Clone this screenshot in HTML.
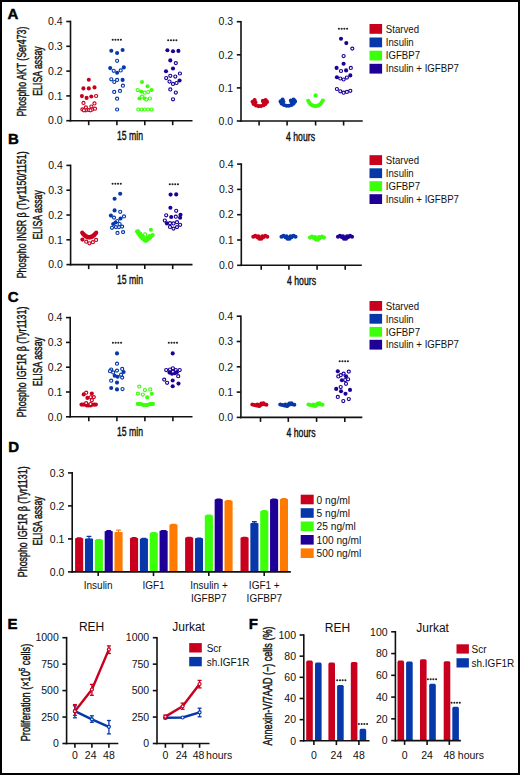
<!DOCTYPE html><html><head><meta charset="utf-8"><style>html,body{margin:0;padding:0;background:#fff;}body{width:520px;height:775px;overflow:hidden;font-family:"Liberation Sans",sans-serif;}svg{display:block;}</style></head><body><svg width="520" height="775" viewBox="0 0 520 775" font-family="Liberation Sans, sans-serif">
<rect x="0" y="0" width="520" height="775" fill="#fff"/>
<text x="7.6" y="18.5" font-size="15" text-anchor="start" font-weight="bold" fill="#000" stroke="#000" stroke-width="0.45">A</text>
<line x1="70.5" y1="20.7" x2="70.5" y2="121.5" stroke="#111" stroke-width="1.6" stroke-linecap="butt"/>
<line x1="66.3" y1="120.7" x2="70.5" y2="120.7" stroke="#111" stroke-width="1.6" stroke-linecap="butt"/>
<text transform="translate(62.70,124.45) scale(1.0,1)" font-size="10.5" text-anchor="end" fill="#111">0.0</text>
<line x1="66.3" y1="95.9" x2="70.5" y2="95.9" stroke="#111" stroke-width="1.6" stroke-linecap="butt"/>
<text transform="translate(62.70,99.65) scale(1.0,1)" font-size="10.5" text-anchor="end" fill="#111">0.1</text>
<line x1="66.3" y1="71.1" x2="70.5" y2="71.1" stroke="#111" stroke-width="1.6" stroke-linecap="butt"/>
<text transform="translate(62.70,74.85) scale(1.0,1)" font-size="10.5" text-anchor="end" fill="#111">0.2</text>
<line x1="66.3" y1="46.3" x2="70.5" y2="46.3" stroke="#111" stroke-width="1.6" stroke-linecap="butt"/>
<text transform="translate(62.70,50.05) scale(1.0,1)" font-size="10.5" text-anchor="end" fill="#111">0.3</text>
<line x1="66.3" y1="21.5" x2="70.5" y2="21.5" stroke="#111" stroke-width="1.6" stroke-linecap="butt"/>
<text transform="translate(62.70,25.25) scale(1.0,1)" font-size="10.5" text-anchor="end" fill="#111">0.4</text>
<line x1="69.7" y1="120.7" x2="192.5" y2="120.7" stroke="#111" stroke-width="1.6" stroke-linecap="butt"/>
<line x1="88.7" y1="120.7" x2="88.7" y2="125.2" stroke="#111" stroke-width="1.6" stroke-linecap="butt"/>
<line x1="116.9" y1="120.7" x2="116.9" y2="125.2" stroke="#111" stroke-width="1.6" stroke-linecap="butt"/>
<line x1="144.8" y1="120.7" x2="144.8" y2="125.2" stroke="#111" stroke-width="1.6" stroke-linecap="butt"/>
<line x1="172.7" y1="120.7" x2="172.7" y2="125.2" stroke="#111" stroke-width="1.6" stroke-linecap="butt"/>
<text transform="translate(26.3,71.6) rotate(-90)" x="0" y="0" font-size="12.3" text-anchor="middle" fill="#111" stroke="#111" stroke-width="0.42" textLength="89.8" lengthAdjust="spacingAndGlyphs">Phospho AKT (Ser473)</text>
<text transform="translate(41.8,71.0) rotate(-90)" x="0" y="0" font-size="12.3" text-anchor="middle" fill="#111" stroke="#111" stroke-width="0.42" textLength="49.4" lengthAdjust="spacingAndGlyphs">ELISA assay</text>
<text x="130" y="139.6" font-size="12" text-anchor="middle" font-weight="normal" fill="#111" textLength="26" lengthAdjust="spacingAndGlyphs" stroke="#111" stroke-width="0.4">15 min</text>
<circle cx="88.8" cy="79.7" r="2.05" fill="#c8001e"/>
<circle cx="83.4" cy="88.4" r="2.05" fill="#c8001e"/>
<circle cx="88.8" cy="88.4" r="2.05" fill="#c8001e"/>
<circle cx="94.5" cy="87.4" r="2.05" fill="#c8001e"/>
<circle cx="81.9" cy="96.1" r="2.05" fill="#c8001e"/>
<circle cx="86.6" cy="97.9" r="2.05" fill="#c8001e"/>
<circle cx="91.3" cy="96.5" r="2.05" fill="#c8001e"/>
<circle cx="96.1" cy="96.0" r="1.55" fill="#fff" stroke="#c8001e" stroke-width="1.15"/>
<circle cx="83.5" cy="102.9" r="1.55" fill="#fff" stroke="#c8001e" stroke-width="1.15"/>
<circle cx="94.5" cy="103.4" r="1.55" fill="#fff" stroke="#c8001e" stroke-width="1.15"/>
<circle cx="91.4" cy="106.5" r="1.55" fill="#fff" stroke="#c8001e" stroke-width="1.15"/>
<circle cx="82.4" cy="109.4" r="1.55" fill="#fff" stroke="#c8001e" stroke-width="1.15"/>
<circle cx="85.9" cy="107.4" r="1.55" fill="#fff" stroke="#c8001e" stroke-width="1.15"/>
<circle cx="85.9" cy="110.3" r="1.55" fill="#fff" stroke="#c8001e" stroke-width="1.15"/>
<circle cx="88.8" cy="110.0" r="1.55" fill="#fff" stroke="#c8001e" stroke-width="1.15"/>
<circle cx="92.1" cy="109.4" r="1.55" fill="#fff" stroke="#c8001e" stroke-width="1.15"/>
<circle cx="95.0" cy="108.7" r="1.55" fill="#fff" stroke="#c8001e" stroke-width="1.15"/>
<circle cx="83.9" cy="110.3" r="1.55" fill="#fff" stroke="#c8001e" stroke-width="1.15"/>
<circle cx="90.5" cy="110.3" r="1.55" fill="#fff" stroke="#c8001e" stroke-width="1.15"/>
<circle cx="112.70" cy="39.70" r="1.05" fill="#222"/>
<circle cx="115.45" cy="39.70" r="1.05" fill="#222"/>
<circle cx="118.15" cy="39.70" r="1.05" fill="#222"/>
<circle cx="120.90" cy="39.70" r="1.05" fill="#222"/>
<circle cx="111.3" cy="50.7" r="2.05" fill="#0638aa"/>
<circle cx="117.1" cy="53.0" r="2.05" fill="#0638aa"/>
<circle cx="122.6" cy="50.0" r="2.05" fill="#0638aa"/>
<circle cx="117.1" cy="60.8" r="1.55" fill="#fff" stroke="#0638aa" stroke-width="1.15"/>
<circle cx="110.2" cy="68.1" r="2.05" fill="#0638aa"/>
<circle cx="113.7" cy="70.8" r="1.55" fill="#fff" stroke="#0638aa" stroke-width="1.15"/>
<circle cx="117.1" cy="72.7" r="2.05" fill="#0638aa"/>
<circle cx="120.7" cy="70.4" r="1.55" fill="#fff" stroke="#0638aa" stroke-width="1.15"/>
<circle cx="123.8" cy="67.4" r="2.05" fill="#0638aa"/>
<circle cx="111.3" cy="79.3" r="1.55" fill="#fff" stroke="#0638aa" stroke-width="1.15"/>
<circle cx="114.3" cy="82.0" r="1.55" fill="#fff" stroke="#0638aa" stroke-width="1.15"/>
<circle cx="117.1" cy="79.9" r="1.55" fill="#fff" stroke="#0638aa" stroke-width="1.15"/>
<circle cx="122.6" cy="79.9" r="2.05" fill="#0638aa"/>
<circle cx="122.9" cy="85.7" r="1.55" fill="#fff" stroke="#0638aa" stroke-width="1.15"/>
<circle cx="114.2" cy="91.9" r="1.55" fill="#fff" stroke="#0638aa" stroke-width="1.15"/>
<circle cx="120.0" cy="90.9" r="1.55" fill="#fff" stroke="#0638aa" stroke-width="1.15"/>
<circle cx="117.1" cy="98.7" r="1.55" fill="#fff" stroke="#0638aa" stroke-width="1.15"/>
<circle cx="117.1" cy="109.5" r="1.55" fill="#fff" stroke="#0638aa" stroke-width="1.15"/>
<circle cx="142.0" cy="82.0" r="2.05" fill="#3cff0a"/>
<circle cx="147.6" cy="86.3" r="2.05" fill="#3cff0a"/>
<circle cx="137.7" cy="90.1" r="1.55" fill="#fff" stroke="#3cff0a" stroke-width="1.15"/>
<circle cx="141.2" cy="91.5" r="2.05" fill="#3cff0a"/>
<circle cx="144.7" cy="92.7" r="1.55" fill="#fff" stroke="#3cff0a" stroke-width="1.15"/>
<circle cx="148.2" cy="92.1" r="1.55" fill="#fff" stroke="#3cff0a" stroke-width="1.15"/>
<circle cx="151.6" cy="90.1" r="2.05" fill="#3cff0a"/>
<circle cx="142.0" cy="96.7" r="1.55" fill="#fff" stroke="#3cff0a" stroke-width="1.15"/>
<circle cx="139.5" cy="98.5" r="2.05" fill="#3cff0a"/>
<circle cx="144.7" cy="98.5" r="2.05" fill="#3cff0a"/>
<circle cx="146.4" cy="99.6" r="1.55" fill="#fff" stroke="#3cff0a" stroke-width="1.15"/>
<circle cx="149.9" cy="98.5" r="1.55" fill="#fff" stroke="#3cff0a" stroke-width="1.15"/>
<circle cx="138.3" cy="109.5" r="1.55" fill="#fff" stroke="#3cff0a" stroke-width="1.15"/>
<circle cx="141.5" cy="109.5" r="1.55" fill="#fff" stroke="#3cff0a" stroke-width="1.15"/>
<circle cx="144.8" cy="109.5" r="1.55" fill="#fff" stroke="#3cff0a" stroke-width="1.15"/>
<circle cx="148.0" cy="109.5" r="1.55" fill="#fff" stroke="#3cff0a" stroke-width="1.15"/>
<circle cx="151.6" cy="109.5" r="1.55" fill="#fff" stroke="#3cff0a" stroke-width="1.15"/>
<circle cx="168.20" cy="40.20" r="1.05" fill="#222"/>
<circle cx="170.95" cy="40.20" r="1.05" fill="#222"/>
<circle cx="173.65" cy="40.20" r="1.05" fill="#222"/>
<circle cx="176.40" cy="40.20" r="1.05" fill="#222"/>
<circle cx="167.4" cy="50.3" r="2.05" fill="#1e0096"/>
<circle cx="173.0" cy="51.2" r="2.05" fill="#1e0096"/>
<circle cx="178.4" cy="50.9" r="2.05" fill="#1e0096"/>
<circle cx="170.3" cy="60.4" r="2.05" fill="#1e0096"/>
<circle cx="175.8" cy="63.1" r="1.55" fill="#fff" stroke="#1e0096" stroke-width="1.15"/>
<circle cx="173.0" cy="68.5" r="2.05" fill="#1e0096"/>
<circle cx="166.0" cy="71.2" r="2.05" fill="#1e0096"/>
<circle cx="170.3" cy="75.8" r="1.55" fill="#fff" stroke="#1e0096" stroke-width="1.15"/>
<circle cx="175.3" cy="76.6" r="1.55" fill="#fff" stroke="#1e0096" stroke-width="1.15"/>
<circle cx="179.9" cy="73.5" r="1.55" fill="#fff" stroke="#1e0096" stroke-width="1.15"/>
<circle cx="166.2" cy="78.1" r="1.55" fill="#fff" stroke="#1e0096" stroke-width="1.15"/>
<circle cx="169.5" cy="81.6" r="1.55" fill="#fff" stroke="#1e0096" stroke-width="1.15"/>
<circle cx="173.0" cy="83.9" r="1.55" fill="#fff" stroke="#1e0096" stroke-width="1.15"/>
<circle cx="176.5" cy="83.0" r="1.55" fill="#fff" stroke="#1e0096" stroke-width="1.15"/>
<circle cx="179.6" cy="80.5" r="2.05" fill="#1e0096"/>
<circle cx="170.3" cy="89.4" r="1.55" fill="#fff" stroke="#1e0096" stroke-width="1.15"/>
<circle cx="175.8" cy="92.6" r="1.55" fill="#fff" stroke="#1e0096" stroke-width="1.15"/>
<circle cx="173.0" cy="99.3" r="1.55" fill="#fff" stroke="#1e0096" stroke-width="1.15"/>
<line x1="241.0" y1="20.899999999999988" x2="241.0" y2="121.8" stroke="#111" stroke-width="1.6" stroke-linecap="butt"/>
<line x1="236.8" y1="121.0" x2="241.0" y2="121.0" stroke="#111" stroke-width="1.6" stroke-linecap="butt"/>
<text transform="translate(233.20,124.75) scale(1.0,1)" font-size="10.5" text-anchor="end" fill="#111">0.0</text>
<line x1="236.8" y1="87.9" x2="241.0" y2="87.9" stroke="#111" stroke-width="1.6" stroke-linecap="butt"/>
<text transform="translate(233.20,91.65) scale(1.0,1)" font-size="10.5" text-anchor="end" fill="#111">0.1</text>
<line x1="236.8" y1="54.8" x2="241.0" y2="54.8" stroke="#111" stroke-width="1.6" stroke-linecap="butt"/>
<text transform="translate(233.20,58.55) scale(1.0,1)" font-size="10.5" text-anchor="end" fill="#111">0.2</text>
<line x1="236.8" y1="21.69999999999999" x2="241.0" y2="21.69999999999999" stroke="#111" stroke-width="1.6" stroke-linecap="butt"/>
<text transform="translate(233.20,25.45) scale(1.0,1)" font-size="10.5" text-anchor="end" fill="#111">0.3</text>
<line x1="240.2" y1="121.0" x2="362.7" y2="121.0" stroke="#111" stroke-width="1.6" stroke-linecap="butt"/>
<line x1="259.1" y1="121.0" x2="259.1" y2="125.5" stroke="#111" stroke-width="1.6" stroke-linecap="butt"/>
<line x1="287.1" y1="121.0" x2="287.1" y2="125.5" stroke="#111" stroke-width="1.6" stroke-linecap="butt"/>
<line x1="315.6" y1="121.0" x2="315.6" y2="125.5" stroke="#111" stroke-width="1.6" stroke-linecap="butt"/>
<line x1="343.6" y1="121.0" x2="343.6" y2="125.5" stroke="#111" stroke-width="1.6" stroke-linecap="butt"/>
<text x="300.5" y="141.0" font-size="12" text-anchor="middle" font-weight="normal" fill="#111" textLength="29" lengthAdjust="spacingAndGlyphs" stroke="#111" stroke-width="0.4">4 hours</text>
<circle cx="252.6" cy="101.8" r="2.05" fill="#c8001e"/>
<circle cx="254.6" cy="100.0" r="2.05" fill="#c8001e"/>
<circle cx="255.4" cy="102.2" r="2.05" fill="#c8001e"/>
<circle cx="253.6" cy="104.0" r="2.05" fill="#c8001e"/>
<circle cx="256.0" cy="105.4" r="2.05" fill="#c8001e"/>
<circle cx="258.5" cy="106.1" r="2.05" fill="#c8001e"/>
<circle cx="261.0" cy="106.1" r="2.05" fill="#c8001e"/>
<circle cx="263.5" cy="105.3" r="2.05" fill="#c8001e"/>
<circle cx="265.5" cy="104.0" r="2.05" fill="#c8001e"/>
<circle cx="267.0" cy="102.0" r="2.05" fill="#c8001e"/>
<circle cx="265.6" cy="100.0" r="2.05" fill="#c8001e"/>
<circle cx="262.9" cy="100.9" r="2.05" fill="#c8001e"/>
<circle cx="263.8" cy="102.6" r="2.05" fill="#c8001e"/>
<circle cx="266.5" cy="101.2" r="2.05" fill="#c8001e"/>
<circle cx="280.6" cy="101.39999999999999" r="2.05" fill="#0638aa"/>
<circle cx="282.6" cy="99.6" r="2.05" fill="#0638aa"/>
<circle cx="283.4" cy="101.8" r="2.05" fill="#0638aa"/>
<circle cx="281.6" cy="103.6" r="2.05" fill="#0638aa"/>
<circle cx="284.0" cy="105.0" r="2.05" fill="#0638aa"/>
<circle cx="286.5" cy="105.69999999999999" r="2.05" fill="#0638aa"/>
<circle cx="289.0" cy="105.69999999999999" r="2.05" fill="#0638aa"/>
<circle cx="291.5" cy="104.89999999999999" r="2.05" fill="#0638aa"/>
<circle cx="293.5" cy="103.6" r="2.05" fill="#0638aa"/>
<circle cx="295.0" cy="101.6" r="2.05" fill="#0638aa"/>
<circle cx="293.6" cy="99.6" r="2.05" fill="#0638aa"/>
<circle cx="290.9" cy="100.5" r="2.05" fill="#0638aa"/>
<circle cx="291.8" cy="102.19999999999999" r="2.05" fill="#0638aa"/>
<circle cx="294.5" cy="100.8" r="2.05" fill="#0638aa"/>
<circle cx="308.2" cy="100.8" r="2.05" fill="#3cff0a"/>
<circle cx="309.2" cy="102.6" r="2.05" fill="#3cff0a"/>
<circle cx="310.6" cy="104.2" r="2.05" fill="#3cff0a"/>
<circle cx="312.4" cy="105.4" r="2.05" fill="#3cff0a"/>
<circle cx="314.4" cy="106.0" r="2.05" fill="#3cff0a"/>
<circle cx="316.4" cy="106.0" r="2.05" fill="#3cff0a"/>
<circle cx="318.4" cy="105.4" r="2.05" fill="#3cff0a"/>
<circle cx="320.2" cy="104.2" r="2.05" fill="#3cff0a"/>
<circle cx="321.6" cy="102.6" r="2.05" fill="#3cff0a"/>
<circle cx="322.8" cy="100.6" r="2.05" fill="#3cff0a"/>
<circle cx="315.6" cy="95.4" r="2.05" fill="#3cff0a"/>
<circle cx="338.90" cy="28.70" r="1.05" fill="#222"/>
<circle cx="341.65" cy="28.70" r="1.05" fill="#222"/>
<circle cx="344.35" cy="28.70" r="1.05" fill="#222"/>
<circle cx="347.10" cy="28.70" r="1.05" fill="#222"/>
<circle cx="341.0" cy="38.8" r="2.05" fill="#1e0096"/>
<circle cx="346.3" cy="43.1" r="2.05" fill="#1e0096"/>
<circle cx="352.3" cy="48.6" r="1.55" fill="#fff" stroke="#1e0096" stroke-width="1.15"/>
<circle cx="343.6" cy="56.0" r="1.55" fill="#fff" stroke="#1e0096" stroke-width="1.15"/>
<circle cx="343.6" cy="63.8" r="2.05" fill="#1e0096"/>
<circle cx="336.6" cy="67.9" r="2.05" fill="#1e0096"/>
<circle cx="341.0" cy="71.0" r="1.55" fill="#fff" stroke="#1e0096" stroke-width="1.15"/>
<circle cx="346.1" cy="70.4" r="2.05" fill="#1e0096"/>
<circle cx="350.8" cy="67.9" r="1.55" fill="#fff" stroke="#1e0096" stroke-width="1.15"/>
<circle cx="336.9" cy="77.2" r="2.05" fill="#1e0096"/>
<circle cx="340.3" cy="78.5" r="1.55" fill="#fff" stroke="#1e0096" stroke-width="1.15"/>
<circle cx="343.6" cy="79.5" r="1.55" fill="#fff" stroke="#1e0096" stroke-width="1.15"/>
<circle cx="346.9" cy="77.6" r="1.55" fill="#fff" stroke="#1e0096" stroke-width="1.15"/>
<circle cx="350.3" cy="75.4" r="2.05" fill="#1e0096"/>
<circle cx="336.9" cy="89.0" r="1.55" fill="#fff" stroke="#1e0096" stroke-width="1.15"/>
<circle cx="340.3" cy="91.3" r="1.55" fill="#fff" stroke="#1e0096" stroke-width="1.15"/>
<circle cx="343.6" cy="92.7" r="1.55" fill="#fff" stroke="#1e0096" stroke-width="1.15"/>
<circle cx="346.9" cy="91.9" r="1.55" fill="#fff" stroke="#1e0096" stroke-width="1.15"/>
<circle cx="350.3" cy="90.8" r="1.55" fill="#fff" stroke="#1e0096" stroke-width="1.15"/>
<rect x="369.5" y="24.0" width="12.6" height="9.8" fill="#c8001e"/>
<text x="385.8" y="32.6" font-size="10.2" text-anchor="start" font-weight="normal" fill="#111" textLength="33.22" lengthAdjust="spacingAndGlyphs" >Starved</text>
<rect x="369.5" y="37.5" width="12.6" height="9.8" fill="#0638aa"/>
<text x="385.8" y="46.1" font-size="10.2" text-anchor="start" font-weight="normal" fill="#111" textLength="27.86" lengthAdjust="spacingAndGlyphs" >Insulin</text>
<rect x="369.5" y="50.7" width="12.6" height="9.8" fill="#3cff0a"/>
<text x="385.8" y="59.300000000000004" font-size="10.2" text-anchor="start" font-weight="normal" fill="#111" textLength="34.28" lengthAdjust="spacingAndGlyphs" >IGFBP7</text>
<rect x="369.5" y="63.8" width="12.6" height="9.8" fill="#1e0096"/>
<text x="385.8" y="72.4" font-size="10.2" text-anchor="start" font-weight="normal" fill="#111" textLength="73.13" lengthAdjust="spacingAndGlyphs" >Insulin + IGFBP7</text>
<text x="8.1" y="144.0" font-size="15" text-anchor="start" font-weight="bold" fill="#000" stroke="#000" stroke-width="0.45">B</text>
<line x1="70.6" y1="164.60000000000002" x2="70.6" y2="265.40000000000003" stroke="#111" stroke-width="1.6" stroke-linecap="butt"/>
<line x1="66.39999999999999" y1="264.6" x2="70.6" y2="264.6" stroke="#111" stroke-width="1.6" stroke-linecap="butt"/>
<text transform="translate(62.80,268.35) scale(1.0,1)" font-size="10.5" text-anchor="end" fill="#111">0.0</text>
<line x1="66.39999999999999" y1="239.8" x2="70.6" y2="239.8" stroke="#111" stroke-width="1.6" stroke-linecap="butt"/>
<text transform="translate(62.80,243.55) scale(1.0,1)" font-size="10.5" text-anchor="end" fill="#111">0.1</text>
<line x1="66.39999999999999" y1="215.00000000000003" x2="70.6" y2="215.00000000000003" stroke="#111" stroke-width="1.6" stroke-linecap="butt"/>
<text transform="translate(62.80,218.75) scale(1.0,1)" font-size="10.5" text-anchor="end" fill="#111">0.2</text>
<line x1="66.39999999999999" y1="190.20000000000002" x2="70.6" y2="190.20000000000002" stroke="#111" stroke-width="1.6" stroke-linecap="butt"/>
<text transform="translate(62.80,193.95) scale(1.0,1)" font-size="10.5" text-anchor="end" fill="#111">0.3</text>
<line x1="66.39999999999999" y1="165.40000000000003" x2="70.6" y2="165.40000000000003" stroke="#111" stroke-width="1.6" stroke-linecap="butt"/>
<text transform="translate(62.80,169.15) scale(1.0,1)" font-size="10.5" text-anchor="end" fill="#111">0.4</text>
<line x1="69.8" y1="264.6" x2="192.5" y2="264.6" stroke="#111" stroke-width="1.6" stroke-linecap="butt"/>
<line x1="88.7" y1="264.6" x2="88.7" y2="269.1" stroke="#111" stroke-width="1.6" stroke-linecap="butt"/>
<line x1="116.9" y1="264.6" x2="116.9" y2="269.1" stroke="#111" stroke-width="1.6" stroke-linecap="butt"/>
<line x1="144.8" y1="264.6" x2="144.8" y2="269.1" stroke="#111" stroke-width="1.6" stroke-linecap="butt"/>
<line x1="172.7" y1="264.6" x2="172.7" y2="269.1" stroke="#111" stroke-width="1.6" stroke-linecap="butt"/>
<text transform="translate(26.3,214.8) rotate(-90)" x="0" y="0" font-size="12.3" text-anchor="middle" fill="#111" stroke="#111" stroke-width="0.42" textLength="127" lengthAdjust="spacingAndGlyphs">Phospho INSR &#946; (Tyr1150/1151)</text>
<text transform="translate(41.8,214.9) rotate(-90)" x="0" y="0" font-size="12.3" text-anchor="middle" fill="#111" stroke="#111" stroke-width="0.42" textLength="49.4" lengthAdjust="spacingAndGlyphs">ELISA assay</text>
<text x="130" y="283.6" font-size="12" text-anchor="middle" font-weight="normal" fill="#111" textLength="26" lengthAdjust="spacingAndGlyphs" stroke="#111" stroke-width="0.4">15 min</text>
<circle cx="82.2" cy="232.5" r="2.05" fill="#c8001e"/>
<circle cx="83.6" cy="234.12" r="2.05" fill="#c8001e"/>
<circle cx="85.0" cy="235.38" r="2.05" fill="#c8001e"/>
<circle cx="86.4" cy="236.28" r="2.05" fill="#c8001e"/>
<circle cx="87.8" cy="236.82" r="2.05" fill="#c8001e"/>
<circle cx="89.2" cy="237.0" r="2.05" fill="#c8001e"/>
<circle cx="90.6" cy="236.82" r="2.05" fill="#c8001e"/>
<circle cx="92.0" cy="236.28" r="2.05" fill="#c8001e"/>
<circle cx="93.4" cy="235.38" r="2.05" fill="#c8001e"/>
<circle cx="94.8" cy="234.12" r="2.05" fill="#c8001e"/>
<circle cx="96.2" cy="232.5" r="2.05" fill="#c8001e"/>
<circle cx="82.7" cy="233.8" r="2.05" fill="#c8001e"/>
<circle cx="84.33" cy="235.46" r="2.05" fill="#c8001e"/>
<circle cx="85.95" cy="236.65" r="2.05" fill="#c8001e"/>
<circle cx="87.58" cy="237.36" r="2.05" fill="#c8001e"/>
<circle cx="89.2" cy="237.6" r="2.05" fill="#c8001e"/>
<circle cx="90.83" cy="237.36" r="2.05" fill="#c8001e"/>
<circle cx="92.45" cy="236.65" r="2.05" fill="#c8001e"/>
<circle cx="94.08" cy="235.46" r="2.05" fill="#c8001e"/>
<circle cx="95.7" cy="233.8" r="2.05" fill="#c8001e"/>
<circle cx="82.4" cy="239.6" r="2.05" fill="#c8001e"/>
<circle cx="86.2" cy="241.7" r="1.55" fill="#fff" stroke="#c8001e" stroke-width="1.15"/>
<circle cx="89.4" cy="243.3" r="1.55" fill="#fff" stroke="#c8001e" stroke-width="1.15"/>
<circle cx="92.9" cy="242.2" r="1.55" fill="#fff" stroke="#c8001e" stroke-width="1.15"/>
<circle cx="96.1" cy="239.9" r="1.55" fill="#fff" stroke="#c8001e" stroke-width="1.15"/>
<circle cx="112.60" cy="183.70" r="1.05" fill="#222"/>
<circle cx="115.35" cy="183.70" r="1.05" fill="#222"/>
<circle cx="118.05" cy="183.70" r="1.05" fill="#222"/>
<circle cx="120.80" cy="183.70" r="1.05" fill="#222"/>
<circle cx="120.2" cy="193.8" r="2.05" fill="#0638aa"/>
<circle cx="114.6" cy="198.8" r="2.05" fill="#0638aa"/>
<circle cx="114.6" cy="210.4" r="2.05" fill="#0638aa"/>
<circle cx="120.2" cy="211.8" r="1.55" fill="#fff" stroke="#0638aa" stroke-width="1.15"/>
<circle cx="110.9" cy="215.6" r="2.05" fill="#0638aa"/>
<circle cx="114.0" cy="217.6" r="1.55" fill="#fff" stroke="#0638aa" stroke-width="1.15"/>
<circle cx="120.5" cy="218.5" r="2.05" fill="#0638aa"/>
<circle cx="124.0" cy="216.4" r="1.55" fill="#fff" stroke="#0638aa" stroke-width="1.15"/>
<circle cx="117.3" cy="221.0" r="1.55" fill="#fff" stroke="#0638aa" stroke-width="1.15"/>
<circle cx="113.2" cy="224.0" r="2.05" fill="#0638aa"/>
<circle cx="115.5" cy="222.5" r="2.05" fill="#0638aa"/>
<circle cx="119.6" cy="224.0" r="1.55" fill="#fff" stroke="#0638aa" stroke-width="1.15"/>
<circle cx="112.0" cy="227.8" r="1.55" fill="#fff" stroke="#0638aa" stroke-width="1.15"/>
<circle cx="115.9" cy="227.1" r="1.55" fill="#fff" stroke="#0638aa" stroke-width="1.15"/>
<circle cx="119.0" cy="227.1" r="1.55" fill="#fff" stroke="#0638aa" stroke-width="1.15"/>
<circle cx="122.1" cy="226.6" r="1.55" fill="#fff" stroke="#0638aa" stroke-width="1.15"/>
<circle cx="117.5" cy="232.9" r="1.55" fill="#fff" stroke="#0638aa" stroke-width="1.15"/>
<circle cx="123.1" cy="232.1" r="1.55" fill="#fff" stroke="#0638aa" stroke-width="1.15"/>
<circle cx="137.0" cy="231.5" r="2.05" fill="#3cff0a"/>
<circle cx="138.3" cy="233.4" r="2.05" fill="#3cff0a"/>
<circle cx="139.6" cy="235.2" r="2.05" fill="#3cff0a"/>
<circle cx="141.0" cy="236.9" r="2.05" fill="#3cff0a"/>
<circle cx="142.5" cy="238.5" r="2.05" fill="#3cff0a"/>
<circle cx="144.0" cy="239.9" r="2.05" fill="#3cff0a"/>
<circle cx="145.7" cy="240.9" r="2.05" fill="#3cff0a"/>
<circle cx="147.3" cy="240.0" r="2.05" fill="#3cff0a"/>
<circle cx="148.8" cy="238.7" r="2.05" fill="#3cff0a"/>
<circle cx="150.2" cy="237.4" r="2.05" fill="#3cff0a"/>
<circle cx="151.6" cy="236.1" r="2.05" fill="#3cff0a"/>
<circle cx="152.7" cy="235.0" r="2.05" fill="#3cff0a"/>
<circle cx="140.2" cy="233.6" r="2.05" fill="#3cff0a"/>
<circle cx="142.0" cy="235.8" r="2.05" fill="#3cff0a"/>
<circle cx="143.8" cy="237.6" r="2.05" fill="#3cff0a"/>
<circle cx="147.6" cy="237.6" r="2.05" fill="#3cff0a"/>
<circle cx="149.6" cy="236.0" r="2.05" fill="#3cff0a"/>
<circle cx="138.2" cy="231.2" r="2.05" fill="#3cff0a"/>
<circle cx="150.9" cy="229.8" r="2.05" fill="#3cff0a"/>
<circle cx="145.1" cy="234.4" r="1.55" fill="#fff" stroke="#3cff0a" stroke-width="1.15"/>
<circle cx="169.80" cy="184.20" r="1.05" fill="#222"/>
<circle cx="172.55" cy="184.20" r="1.05" fill="#222"/>
<circle cx="175.25" cy="184.20" r="1.05" fill="#222"/>
<circle cx="178.00" cy="184.20" r="1.05" fill="#222"/>
<circle cx="170.6" cy="194.6" r="2.05" fill="#1e0096"/>
<circle cx="176.2" cy="194.4" r="2.05" fill="#1e0096"/>
<circle cx="170.4" cy="207.7" r="2.05" fill="#1e0096"/>
<circle cx="176.2" cy="210.8" r="1.55" fill="#fff" stroke="#1e0096" stroke-width="1.15"/>
<circle cx="166.2" cy="215.3" r="1.55" fill="#fff" stroke="#1e0096" stroke-width="1.15"/>
<circle cx="171.2" cy="217.0" r="2.05" fill="#1e0096"/>
<circle cx="175.8" cy="216.7" r="1.55" fill="#fff" stroke="#1e0096" stroke-width="1.15"/>
<circle cx="180.5" cy="214.7" r="2.05" fill="#1e0096"/>
<circle cx="180.1" cy="217.8" r="2.05" fill="#1e0096"/>
<circle cx="164.8" cy="220.5" r="1.55" fill="#fff" stroke="#1e0096" stroke-width="1.15"/>
<circle cx="166.9" cy="223.4" r="2.05" fill="#1e0096"/>
<circle cx="170.0" cy="223.2" r="1.55" fill="#fff" stroke="#1e0096" stroke-width="1.15"/>
<circle cx="173.5" cy="223.4" r="1.55" fill="#fff" stroke="#1e0096" stroke-width="1.15"/>
<circle cx="177.0" cy="222.2" r="1.55" fill="#fff" stroke="#1e0096" stroke-width="1.15"/>
<circle cx="180.1" cy="224.8" r="1.55" fill="#fff" stroke="#1e0096" stroke-width="1.15"/>
<circle cx="170.0" cy="226.9" r="1.55" fill="#fff" stroke="#1e0096" stroke-width="1.15"/>
<circle cx="173.5" cy="228.6" r="1.55" fill="#fff" stroke="#1e0096" stroke-width="1.15"/>
<circle cx="177.0" cy="227.1" r="1.55" fill="#fff" stroke="#1e0096" stroke-width="1.15"/>
<line x1="241.3" y1="163.3" x2="241.3" y2="266.1" stroke="#111" stroke-width="1.6" stroke-linecap="butt"/>
<line x1="237.10000000000002" y1="265.3" x2="241.3" y2="265.3" stroke="#111" stroke-width="1.6" stroke-linecap="butt"/>
<text transform="translate(233.50,269.05) scale(1.0,1)" font-size="10.5" text-anchor="end" fill="#111">0.0</text>
<line x1="237.10000000000002" y1="240.0" x2="241.3" y2="240.0" stroke="#111" stroke-width="1.6" stroke-linecap="butt"/>
<text transform="translate(233.50,243.75) scale(1.0,1)" font-size="10.5" text-anchor="end" fill="#111">0.1</text>
<line x1="237.10000000000002" y1="214.70000000000002" x2="241.3" y2="214.70000000000002" stroke="#111" stroke-width="1.6" stroke-linecap="butt"/>
<text transform="translate(233.50,218.45) scale(1.0,1)" font-size="10.5" text-anchor="end" fill="#111">0.2</text>
<line x1="237.10000000000002" y1="189.4" x2="241.3" y2="189.4" stroke="#111" stroke-width="1.6" stroke-linecap="butt"/>
<text transform="translate(233.50,193.15) scale(1.0,1)" font-size="10.5" text-anchor="end" fill="#111">0.3</text>
<line x1="237.10000000000002" y1="164.10000000000002" x2="241.3" y2="164.10000000000002" stroke="#111" stroke-width="1.6" stroke-linecap="butt"/>
<text transform="translate(233.50,167.85) scale(1.0,1)" font-size="10.5" text-anchor="end" fill="#111">0.4</text>
<line x1="240.5" y1="265.3" x2="361.8" y2="265.3" stroke="#111" stroke-width="1.6" stroke-linecap="butt"/>
<line x1="261.2" y1="265.3" x2="261.2" y2="269.8" stroke="#111" stroke-width="1.6" stroke-linecap="butt"/>
<line x1="288.9" y1="265.3" x2="288.9" y2="269.8" stroke="#111" stroke-width="1.6" stroke-linecap="butt"/>
<line x1="317.1" y1="265.3" x2="317.1" y2="269.8" stroke="#111" stroke-width="1.6" stroke-linecap="butt"/>
<line x1="345.2" y1="265.3" x2="345.2" y2="269.8" stroke="#111" stroke-width="1.6" stroke-linecap="butt"/>
<text x="301.5" y="284.5" font-size="12" text-anchor="middle" font-weight="normal" fill="#111" textLength="29" lengthAdjust="spacingAndGlyphs" stroke="#111" stroke-width="0.4">4 hours</text>
<circle cx="253.3" cy="236.8" r="2.05" fill="#c8001e"/>
<circle cx="255.3" cy="235.8" r="2.05" fill="#c8001e"/>
<circle cx="257.3" cy="237.3" r="2.05" fill="#c8001e"/>
<circle cx="259.3" cy="238.8" r="2.05" fill="#c8001e"/>
<circle cx="261.3" cy="238.8" r="2.05" fill="#c8001e"/>
<circle cx="263.3" cy="237.3" r="2.05" fill="#c8001e"/>
<circle cx="265.3" cy="235.8" r="2.05" fill="#c8001e"/>
<circle cx="267.3" cy="236.8" r="2.05" fill="#c8001e"/>
<circle cx="258.3" cy="236.3" r="2.05" fill="#c8001e"/>
<circle cx="262.3" cy="236.3" r="2.05" fill="#c8001e"/>
<circle cx="260.3" cy="237.8" r="2.05" fill="#c8001e"/>
<circle cx="281.5" cy="236.8" r="2.05" fill="#0638aa"/>
<circle cx="283.5" cy="235.8" r="2.05" fill="#0638aa"/>
<circle cx="285.5" cy="237.3" r="2.05" fill="#0638aa"/>
<circle cx="287.5" cy="238.8" r="2.05" fill="#0638aa"/>
<circle cx="289.5" cy="238.8" r="2.05" fill="#0638aa"/>
<circle cx="291.5" cy="237.3" r="2.05" fill="#0638aa"/>
<circle cx="293.5" cy="235.8" r="2.05" fill="#0638aa"/>
<circle cx="295.5" cy="236.8" r="2.05" fill="#0638aa"/>
<circle cx="286.5" cy="236.3" r="2.05" fill="#0638aa"/>
<circle cx="290.5" cy="236.3" r="2.05" fill="#0638aa"/>
<circle cx="288.5" cy="237.8" r="2.05" fill="#0638aa"/>
<circle cx="310.0" cy="237.60000000000002" r="2.05" fill="#3cff0a"/>
<circle cx="312.0" cy="236.60000000000002" r="2.05" fill="#3cff0a"/>
<circle cx="314.0" cy="238.10000000000002" r="2.05" fill="#3cff0a"/>
<circle cx="316.0" cy="239.60000000000002" r="2.05" fill="#3cff0a"/>
<circle cx="318.0" cy="239.60000000000002" r="2.05" fill="#3cff0a"/>
<circle cx="320.0" cy="238.10000000000002" r="2.05" fill="#3cff0a"/>
<circle cx="322.0" cy="236.60000000000002" r="2.05" fill="#3cff0a"/>
<circle cx="324.0" cy="237.60000000000002" r="2.05" fill="#3cff0a"/>
<circle cx="315.0" cy="237.10000000000002" r="2.05" fill="#3cff0a"/>
<circle cx="319.0" cy="237.10000000000002" r="2.05" fill="#3cff0a"/>
<circle cx="317.0" cy="238.60000000000002" r="2.05" fill="#3cff0a"/>
<circle cx="338.0" cy="236.8" r="2.05" fill="#1e0096"/>
<circle cx="340.0" cy="235.8" r="2.05" fill="#1e0096"/>
<circle cx="342.0" cy="237.3" r="2.05" fill="#1e0096"/>
<circle cx="344.0" cy="238.8" r="2.05" fill="#1e0096"/>
<circle cx="346.0" cy="238.8" r="2.05" fill="#1e0096"/>
<circle cx="348.0" cy="237.3" r="2.05" fill="#1e0096"/>
<circle cx="350.0" cy="235.8" r="2.05" fill="#1e0096"/>
<circle cx="352.0" cy="236.8" r="2.05" fill="#1e0096"/>
<circle cx="343.0" cy="236.3" r="2.05" fill="#1e0096"/>
<circle cx="347.0" cy="236.3" r="2.05" fill="#1e0096"/>
<circle cx="345.0" cy="237.8" r="2.05" fill="#1e0096"/>
<rect x="369.5" y="155.2" width="12.6" height="9.8" fill="#c8001e"/>
<text x="385.8" y="163.79999999999998" font-size="10.2" text-anchor="start" font-weight="normal" fill="#111" textLength="33.22" lengthAdjust="spacingAndGlyphs" >Starved</text>
<rect x="369.5" y="168.3" width="12.6" height="9.8" fill="#0638aa"/>
<text x="385.8" y="176.9" font-size="10.2" text-anchor="start" font-weight="normal" fill="#111" textLength="27.86" lengthAdjust="spacingAndGlyphs" >Insulin</text>
<rect x="369.5" y="181.2" width="12.6" height="9.8" fill="#3cff0a"/>
<text x="385.8" y="189.79999999999998" font-size="10.2" text-anchor="start" font-weight="normal" fill="#111" textLength="34.28" lengthAdjust="spacingAndGlyphs" >IGFBP7</text>
<rect x="369.5" y="194.2" width="12.6" height="9.8" fill="#1e0096"/>
<text x="385.8" y="202.79999999999998" font-size="10.2" text-anchor="start" font-weight="normal" fill="#111" textLength="73.13" lengthAdjust="spacingAndGlyphs" >Insulin + IGFBP7</text>
<text x="7.8" y="301.6" font-size="15" text-anchor="start" font-weight="bold" fill="#000" stroke="#000" stroke-width="0.45">C</text>
<line x1="70.2" y1="316.8" x2="70.2" y2="417.6" stroke="#111" stroke-width="1.6" stroke-linecap="butt"/>
<line x1="66.0" y1="416.8" x2="70.2" y2="416.8" stroke="#111" stroke-width="1.6" stroke-linecap="butt"/>
<text transform="translate(62.40,420.55) scale(1.0,1)" font-size="10.5" text-anchor="end" fill="#111">0.0</text>
<line x1="66.0" y1="392.0" x2="70.2" y2="392.0" stroke="#111" stroke-width="1.6" stroke-linecap="butt"/>
<text transform="translate(62.40,395.75) scale(1.0,1)" font-size="10.5" text-anchor="end" fill="#111">0.1</text>
<line x1="66.0" y1="367.2" x2="70.2" y2="367.2" stroke="#111" stroke-width="1.6" stroke-linecap="butt"/>
<text transform="translate(62.40,370.95) scale(1.0,1)" font-size="10.5" text-anchor="end" fill="#111">0.2</text>
<line x1="66.0" y1="342.4" x2="70.2" y2="342.4" stroke="#111" stroke-width="1.6" stroke-linecap="butt"/>
<text transform="translate(62.40,346.15) scale(1.0,1)" font-size="10.5" text-anchor="end" fill="#111">0.3</text>
<line x1="66.0" y1="317.6" x2="70.2" y2="317.6" stroke="#111" stroke-width="1.6" stroke-linecap="butt"/>
<text transform="translate(62.40,321.35) scale(1.0,1)" font-size="10.5" text-anchor="end" fill="#111">0.4</text>
<line x1="69.4" y1="416.8" x2="192.5" y2="416.8" stroke="#111" stroke-width="1.6" stroke-linecap="butt"/>
<line x1="88.8" y1="416.8" x2="88.8" y2="421.3" stroke="#111" stroke-width="1.6" stroke-linecap="butt"/>
<line x1="116.9" y1="416.8" x2="116.9" y2="421.3" stroke="#111" stroke-width="1.6" stroke-linecap="butt"/>
<line x1="144.9" y1="416.8" x2="144.9" y2="421.3" stroke="#111" stroke-width="1.6" stroke-linecap="butt"/>
<line x1="172.9" y1="416.8" x2="172.9" y2="421.3" stroke="#111" stroke-width="1.6" stroke-linecap="butt"/>
<text transform="translate(26.3,361.9) rotate(-90)" x="0" y="0" font-size="12.3" text-anchor="middle" fill="#111" stroke="#111" stroke-width="0.42" textLength="110.5" lengthAdjust="spacingAndGlyphs">Phospho IGF1R &#946; (Tyr1131)</text>
<text transform="translate(41.8,361.7) rotate(-90)" x="0" y="0" font-size="12.3" text-anchor="middle" fill="#111" stroke="#111" stroke-width="0.42" textLength="49.0" lengthAdjust="spacingAndGlyphs">ELISA assay</text>
<text x="130" y="435.6" font-size="12" text-anchor="middle" font-weight="normal" fill="#111" textLength="26" lengthAdjust="spacingAndGlyphs" stroke="#111" stroke-width="0.4">15 min</text>
<circle cx="86.2" cy="392.7" r="1.55" fill="#fff" stroke="#c8001e" stroke-width="1.15"/>
<circle cx="83.7" cy="394.4" r="2.05" fill="#c8001e"/>
<circle cx="91.8" cy="393.6" r="2.05" fill="#c8001e"/>
<circle cx="87.4" cy="397.9" r="2.05" fill="#c8001e"/>
<circle cx="90.7" cy="397.3" r="1.55" fill="#fff" stroke="#c8001e" stroke-width="1.15"/>
<circle cx="93.8" cy="397.1" r="1.55" fill="#fff" stroke="#c8001e" stroke-width="1.15"/>
<circle cx="91.8" cy="400.2" r="1.55" fill="#fff" stroke="#c8001e" stroke-width="1.15"/>
<circle cx="81.5" cy="404.6" r="2.05" fill="#c8001e"/>
<circle cx="83.3" cy="404.6" r="2.05" fill="#c8001e"/>
<circle cx="85.1" cy="404.6" r="2.05" fill="#c8001e"/>
<circle cx="86.9" cy="405.40000000000003" r="2.05" fill="#c8001e"/>
<circle cx="88.7" cy="405.40000000000003" r="2.05" fill="#c8001e"/>
<circle cx="90.5" cy="405.40000000000003" r="2.05" fill="#c8001e"/>
<circle cx="92.3" cy="404.6" r="2.05" fill="#c8001e"/>
<circle cx="94.1" cy="404.6" r="2.05" fill="#c8001e"/>
<circle cx="95.9" cy="404.6" r="2.05" fill="#c8001e"/>
<circle cx="86.2" cy="403.1" r="1.55" fill="#fff" stroke="#c8001e" stroke-width="1.15"/>
<circle cx="90.5" cy="404.0" r="1.55" fill="#fff" stroke="#c8001e" stroke-width="1.15"/>
<circle cx="112.90" cy="342.70" r="1.05" fill="#222"/>
<circle cx="115.65" cy="342.70" r="1.05" fill="#222"/>
<circle cx="118.35" cy="342.70" r="1.05" fill="#222"/>
<circle cx="121.10" cy="342.70" r="1.05" fill="#222"/>
<circle cx="117.0" cy="353.4" r="2.05" fill="#0638aa"/>
<circle cx="117.0" cy="363.7" r="1.55" fill="#fff" stroke="#0638aa" stroke-width="1.15"/>
<circle cx="111.2" cy="369.5" r="1.55" fill="#fff" stroke="#0638aa" stroke-width="1.15"/>
<circle cx="110.0" cy="371.2" r="1.55" fill="#fff" stroke="#0638aa" stroke-width="1.15"/>
<circle cx="113.2" cy="372.4" r="1.55" fill="#fff" stroke="#0638aa" stroke-width="1.15"/>
<circle cx="117.0" cy="370.6" r="1.55" fill="#fff" stroke="#0638aa" stroke-width="1.15"/>
<circle cx="122.2" cy="368.9" r="1.55" fill="#fff" stroke="#0638aa" stroke-width="1.15"/>
<circle cx="123.6" cy="372.0" r="2.05" fill="#0638aa"/>
<circle cx="121.1" cy="374.7" r="1.55" fill="#fff" stroke="#0638aa" stroke-width="1.15"/>
<circle cx="114.7" cy="375.8" r="2.05" fill="#0638aa"/>
<circle cx="117.6" cy="376.7" r="2.05" fill="#0638aa"/>
<circle cx="122.2" cy="377.6" r="1.55" fill="#fff" stroke="#0638aa" stroke-width="1.15"/>
<circle cx="111.2" cy="380.7" r="1.55" fill="#fff" stroke="#0638aa" stroke-width="1.15"/>
<circle cx="117.0" cy="382.6" r="2.05" fill="#0638aa"/>
<circle cx="111.2" cy="388.0" r="2.05" fill="#0638aa"/>
<circle cx="117.0" cy="389.4" r="2.05" fill="#0638aa"/>
<circle cx="122.5" cy="389.0" r="1.55" fill="#fff" stroke="#0638aa" stroke-width="1.15"/>
<circle cx="139.3" cy="386.6" r="1.55" fill="#fff" stroke="#3cff0a" stroke-width="1.15"/>
<circle cx="144.9" cy="390.0" r="1.55" fill="#fff" stroke="#3cff0a" stroke-width="1.15"/>
<circle cx="150.3" cy="389.4" r="1.55" fill="#fff" stroke="#3cff0a" stroke-width="1.15"/>
<circle cx="137.9" cy="393.6" r="1.55" fill="#fff" stroke="#3cff0a" stroke-width="1.15"/>
<circle cx="142.8" cy="394.5" r="1.55" fill="#fff" stroke="#3cff0a" stroke-width="1.15"/>
<circle cx="147.2" cy="397.3" r="2.05" fill="#3cff0a"/>
<circle cx="151.8" cy="393.8" r="2.05" fill="#3cff0a"/>
<circle cx="137.8" cy="403.9" r="2.05" fill="#3cff0a"/>
<circle cx="139.70000000000002" cy="403.9" r="2.05" fill="#3cff0a"/>
<circle cx="141.60000000000002" cy="404.2" r="2.05" fill="#3cff0a"/>
<circle cx="143.5" cy="405.09999999999997" r="2.05" fill="#3cff0a"/>
<circle cx="145.4" cy="405.09999999999997" r="2.05" fill="#3cff0a"/>
<circle cx="147.3" cy="405.09999999999997" r="2.05" fill="#3cff0a"/>
<circle cx="149.20000000000002" cy="404.2" r="2.05" fill="#3cff0a"/>
<circle cx="151.10000000000002" cy="403.9" r="2.05" fill="#3cff0a"/>
<circle cx="153.0" cy="403.9" r="2.05" fill="#3cff0a"/>
<circle cx="168.80" cy="342.70" r="1.05" fill="#222"/>
<circle cx="171.55" cy="342.70" r="1.05" fill="#222"/>
<circle cx="174.25" cy="342.70" r="1.05" fill="#222"/>
<circle cx="177.00" cy="342.70" r="1.05" fill="#222"/>
<circle cx="172.7" cy="353.4" r="2.05" fill="#1e0096"/>
<circle cx="166.2" cy="370.0" r="1.55" fill="#fff" stroke="#1e0096" stroke-width="1.15"/>
<circle cx="170.0" cy="369.5" r="1.55" fill="#fff" stroke="#1e0096" stroke-width="1.15"/>
<circle cx="172.9" cy="368.3" r="1.55" fill="#fff" stroke="#1e0096" stroke-width="1.15"/>
<circle cx="175.8" cy="370.0" r="1.55" fill="#fff" stroke="#1e0096" stroke-width="1.15"/>
<circle cx="179.7" cy="370.0" r="1.55" fill="#fff" stroke="#1e0096" stroke-width="1.15"/>
<circle cx="169.5" cy="372.6" r="2.05" fill="#1e0096"/>
<circle cx="172.0" cy="373.8" r="2.05" fill="#1e0096"/>
<circle cx="174.8" cy="373.2" r="2.05" fill="#1e0096"/>
<circle cx="176.8" cy="372.2" r="2.05" fill="#1e0096"/>
<circle cx="172.9" cy="371.6" r="1.55" fill="#fff" stroke="#1e0096" stroke-width="1.15"/>
<circle cx="178.2" cy="376.2" r="1.55" fill="#fff" stroke="#1e0096" stroke-width="1.15"/>
<circle cx="164.2" cy="379.6" r="1.55" fill="#fff" stroke="#1e0096" stroke-width="1.15"/>
<circle cx="167.1" cy="382.8" r="1.55" fill="#fff" stroke="#1e0096" stroke-width="1.15"/>
<circle cx="172.7" cy="380.5" r="2.05" fill="#1e0096"/>
<circle cx="178.5" cy="383.6" r="2.05" fill="#1e0096"/>
<circle cx="172.7" cy="386.3" r="2.05" fill="#1e0096"/>
<line x1="240.9" y1="315.4" x2="240.9" y2="418.2" stroke="#111" stroke-width="1.6" stroke-linecap="butt"/>
<line x1="236.70000000000002" y1="417.4" x2="240.9" y2="417.4" stroke="#111" stroke-width="1.6" stroke-linecap="butt"/>
<text transform="translate(233.10,421.15) scale(1.0,1)" font-size="10.5" text-anchor="end" fill="#111">0.0</text>
<line x1="236.70000000000002" y1="392.09999999999997" x2="240.9" y2="392.09999999999997" stroke="#111" stroke-width="1.6" stroke-linecap="butt"/>
<text transform="translate(233.10,395.85) scale(1.0,1)" font-size="10.5" text-anchor="end" fill="#111">0.1</text>
<line x1="236.70000000000002" y1="366.79999999999995" x2="240.9" y2="366.79999999999995" stroke="#111" stroke-width="1.6" stroke-linecap="butt"/>
<text transform="translate(233.10,370.55) scale(1.0,1)" font-size="10.5" text-anchor="end" fill="#111">0.2</text>
<line x1="236.70000000000002" y1="341.5" x2="240.9" y2="341.5" stroke="#111" stroke-width="1.6" stroke-linecap="butt"/>
<text transform="translate(233.10,345.25) scale(1.0,1)" font-size="10.5" text-anchor="end" fill="#111">0.3</text>
<line x1="236.70000000000002" y1="316.2" x2="240.9" y2="316.2" stroke="#111" stroke-width="1.6" stroke-linecap="butt"/>
<text transform="translate(233.10,319.95) scale(1.0,1)" font-size="10.5" text-anchor="end" fill="#111">0.4</text>
<line x1="240.1" y1="417.4" x2="362.3" y2="417.4" stroke="#111" stroke-width="1.6" stroke-linecap="butt"/>
<line x1="260.5" y1="417.4" x2="260.5" y2="421.9" stroke="#111" stroke-width="1.6" stroke-linecap="butt"/>
<line x1="288.3" y1="417.4" x2="288.3" y2="421.9" stroke="#111" stroke-width="1.6" stroke-linecap="butt"/>
<line x1="316.6" y1="417.4" x2="316.6" y2="421.9" stroke="#111" stroke-width="1.6" stroke-linecap="butt"/>
<line x1="344.8" y1="417.4" x2="344.8" y2="421.9" stroke="#111" stroke-width="1.6" stroke-linecap="butt"/>
<text x="301" y="437.0" font-size="12" text-anchor="middle" font-weight="normal" fill="#111" textLength="29" lengthAdjust="spacingAndGlyphs" stroke="#111" stroke-width="0.4">4 hours</text>
<circle cx="252.39999999999998" cy="404.5" r="2.05" fill="#c8001e"/>
<circle cx="254.39999999999998" cy="405" r="2.05" fill="#c8001e"/>
<circle cx="256.4" cy="405.5" r="2.05" fill="#c8001e"/>
<circle cx="258.4" cy="405.8" r="2.05" fill="#c8001e"/>
<circle cx="260.4" cy="405" r="2.05" fill="#c8001e"/>
<circle cx="262.4" cy="404.3" r="2.05" fill="#c8001e"/>
<circle cx="264.4" cy="404.2" r="2.05" fill="#c8001e"/>
<circle cx="266.4" cy="404.8" r="2.05" fill="#c8001e"/>
<circle cx="257.4" cy="404.5" r="2.05" fill="#c8001e"/>
<circle cx="261.4" cy="403.5" r="2.05" fill="#c8001e"/>
<circle cx="263.4" cy="403.2" r="2.05" fill="#c8001e"/>
<circle cx="259.4" cy="406" r="2.05" fill="#c8001e"/>
<circle cx="280.3" cy="404.5" r="2.05" fill="#0638aa"/>
<circle cx="282.3" cy="405" r="2.05" fill="#0638aa"/>
<circle cx="284.3" cy="405.5" r="2.05" fill="#0638aa"/>
<circle cx="286.3" cy="405.8" r="2.05" fill="#0638aa"/>
<circle cx="288.3" cy="405" r="2.05" fill="#0638aa"/>
<circle cx="290.3" cy="404.3" r="2.05" fill="#0638aa"/>
<circle cx="292.3" cy="404.2" r="2.05" fill="#0638aa"/>
<circle cx="294.3" cy="404.8" r="2.05" fill="#0638aa"/>
<circle cx="285.3" cy="404.5" r="2.05" fill="#0638aa"/>
<circle cx="289.3" cy="403.5" r="2.05" fill="#0638aa"/>
<circle cx="291.3" cy="403.2" r="2.05" fill="#0638aa"/>
<circle cx="287.3" cy="406" r="2.05" fill="#0638aa"/>
<circle cx="308.5" cy="404.5" r="2.05" fill="#3cff0a"/>
<circle cx="310.5" cy="405" r="2.05" fill="#3cff0a"/>
<circle cx="312.5" cy="405.5" r="2.05" fill="#3cff0a"/>
<circle cx="314.5" cy="405.8" r="2.05" fill="#3cff0a"/>
<circle cx="316.5" cy="405" r="2.05" fill="#3cff0a"/>
<circle cx="318.5" cy="404.3" r="2.05" fill="#3cff0a"/>
<circle cx="320.5" cy="404.2" r="2.05" fill="#3cff0a"/>
<circle cx="322.5" cy="404.8" r="2.05" fill="#3cff0a"/>
<circle cx="313.5" cy="404.5" r="2.05" fill="#3cff0a"/>
<circle cx="317.5" cy="403.5" r="2.05" fill="#3cff0a"/>
<circle cx="319.5" cy="403.2" r="2.05" fill="#3cff0a"/>
<circle cx="315.5" cy="406" r="2.05" fill="#3cff0a"/>
<circle cx="339.70" cy="361.20" r="1.05" fill="#222"/>
<circle cx="342.45" cy="361.20" r="1.05" fill="#222"/>
<circle cx="345.15" cy="361.20" r="1.05" fill="#222"/>
<circle cx="347.90" cy="361.20" r="1.05" fill="#222"/>
<circle cx="337.8" cy="371.3" r="2.05" fill="#1e0096"/>
<circle cx="348.8" cy="371.6" r="1.55" fill="#fff" stroke="#1e0096" stroke-width="1.15"/>
<circle cx="343.6" cy="373.6" r="1.55" fill="#fff" stroke="#1e0096" stroke-width="1.15"/>
<circle cx="340.7" cy="375.2" r="1.55" fill="#fff" stroke="#1e0096" stroke-width="1.15"/>
<circle cx="338.3" cy="376.4" r="1.55" fill="#fff" stroke="#1e0096" stroke-width="1.15"/>
<circle cx="346.0" cy="376.2" r="2.05" fill="#1e0096"/>
<circle cx="341.9" cy="380.3" r="2.05" fill="#1e0096"/>
<circle cx="345.2" cy="380.0" r="1.55" fill="#fff" stroke="#1e0096" stroke-width="1.15"/>
<circle cx="348.1" cy="379.3" r="1.55" fill="#fff" stroke="#1e0096" stroke-width="1.15"/>
<circle cx="346.0" cy="383.8" r="1.55" fill="#fff" stroke="#1e0096" stroke-width="1.15"/>
<circle cx="340.7" cy="387.0" r="1.55" fill="#fff" stroke="#1e0096" stroke-width="1.15"/>
<circle cx="336.2" cy="388.9" r="2.05" fill="#1e0096"/>
<circle cx="341.0" cy="391.2" r="2.05" fill="#1e0096"/>
<circle cx="350.0" cy="389.9" r="2.05" fill="#1e0096"/>
<circle cx="345.5" cy="393.8" r="2.05" fill="#1e0096"/>
<circle cx="337.8" cy="396.9" r="1.55" fill="#fff" stroke="#1e0096" stroke-width="1.15"/>
<circle cx="343.3" cy="401.0" r="1.55" fill="#fff" stroke="#1e0096" stroke-width="1.15"/>
<circle cx="348.8" cy="399.0" r="1.55" fill="#fff" stroke="#1e0096" stroke-width="1.15"/>
<rect x="369.5" y="301.0" width="12.6" height="9.8" fill="#c8001e"/>
<text x="385.8" y="309.59999999999997" font-size="10.2" text-anchor="start" font-weight="normal" fill="#111" textLength="33.22" lengthAdjust="spacingAndGlyphs" >Starved</text>
<rect x="369.5" y="313.9" width="12.6" height="9.8" fill="#0638aa"/>
<text x="385.8" y="322.49999999999994" font-size="10.2" text-anchor="start" font-weight="normal" fill="#111" textLength="27.86" lengthAdjust="spacingAndGlyphs" >Insulin</text>
<rect x="369.5" y="326.9" width="12.6" height="9.8" fill="#3cff0a"/>
<text x="385.8" y="335.49999999999994" font-size="10.2" text-anchor="start" font-weight="normal" fill="#111" textLength="34.28" lengthAdjust="spacingAndGlyphs" >IGFBP7</text>
<rect x="369.5" y="339.8" width="12.6" height="9.8" fill="#1e0096"/>
<text x="385.8" y="348.4" font-size="10.2" text-anchor="start" font-weight="normal" fill="#111" textLength="73.13" lengthAdjust="spacingAndGlyphs" >Insulin + IGFBP7</text>
<text x="8.2" y="452.2" font-size="15" text-anchor="start" font-weight="bold" fill="#000" stroke="#000" stroke-width="0.45">D</text>
<line x1="72.2" y1="472.09999999999997" x2="72.2" y2="572.6999999999999" stroke="#111" stroke-width="1.6" stroke-linecap="butt"/>
<line x1="68.0" y1="571.9" x2="72.2" y2="571.9" stroke="#111" stroke-width="1.6" stroke-linecap="butt"/>
<text transform="translate(64.40,575.65) scale(1.0,1)" font-size="10.5" text-anchor="end" fill="#111">0.0</text>
<line x1="68.0" y1="538.9" x2="72.2" y2="538.9" stroke="#111" stroke-width="1.6" stroke-linecap="butt"/>
<text transform="translate(64.40,542.65) scale(1.0,1)" font-size="10.5" text-anchor="end" fill="#111">0.1</text>
<line x1="68.0" y1="505.9" x2="72.2" y2="505.9" stroke="#111" stroke-width="1.6" stroke-linecap="butt"/>
<text transform="translate(64.40,509.65) scale(1.0,1)" font-size="10.5" text-anchor="end" fill="#111">0.2</text>
<line x1="68.0" y1="472.9" x2="72.2" y2="472.9" stroke="#111" stroke-width="1.6" stroke-linecap="butt"/>
<text transform="translate(64.40,476.65) scale(1.0,1)" font-size="10.5" text-anchor="end" fill="#111">0.3</text>
<text transform="translate(27.2,521.8) rotate(-90)" x="0" y="0" font-size="12.3" text-anchor="middle" fill="#111" stroke="#111" stroke-width="0.42" textLength="110.8" lengthAdjust="spacingAndGlyphs">Phospho IGF1R &#946; (Tyr1131)</text>
<text transform="translate(42.4,521.0) rotate(-90)" x="0" y="0" font-size="12.3" text-anchor="middle" fill="#111" stroke="#111" stroke-width="0.42" textLength="49.2" lengthAdjust="spacingAndGlyphs">ELISA assay</text>
<rect x="75.1" y="538.3" width="8.1" height="33.59999999999998" fill="#c8001e"/>
<rect x="75.69999999999999" y="537.9" width="6.9" height="1.5" rx="0.7" fill="#c8001e"/>
<line x1="79.14999999999999" y1="538.5" x2="79.14999999999999" y2="538.0" stroke="#c8001e" stroke-width="1.2" stroke-linecap="butt"/>
<rect x="76.69999999999999" y="537.3" width="4.9" height="1.4" rx="0.5" fill="#c8001e"/>
<rect x="84.94999999999999" y="538.8" width="8.1" height="33.09999999999998" fill="#0638aa"/>
<rect x="85.54999999999998" y="538.4" width="6.9" height="1.5" rx="0.7" fill="#0638aa"/>
<line x1="88.99999999999999" y1="539.0" x2="88.99999999999999" y2="536.4" stroke="#0638aa" stroke-width="1.2" stroke-linecap="butt"/>
<rect x="86.54999999999998" y="535.6999999999999" width="4.9" height="1.4" rx="0.5" fill="#0638aa"/>
<rect x="94.8" y="539.9" width="8.1" height="31.999999999999954" fill="#3cff0a"/>
<rect x="95.39999999999999" y="539.5" width="6.9" height="1.5" rx="0.7" fill="#3cff0a"/>
<line x1="98.85" y1="540.1" x2="98.85" y2="539.6" stroke="#3cff0a" stroke-width="1.2" stroke-linecap="butt"/>
<rect x="96.39999999999999" y="538.9" width="4.9" height="1.4" rx="0.5" fill="#3cff0a"/>
<rect x="104.64999999999999" y="531.3" width="8.1" height="40.59999999999998" fill="#1e0096"/>
<rect x="105.24999999999999" y="530.9" width="6.9" height="1.5" rx="0.7" fill="#1e0096"/>
<line x1="108.69999999999999" y1="531.5" x2="108.69999999999999" y2="530.7" stroke="#1e0096" stroke-width="1.2" stroke-linecap="butt"/>
<rect x="106.24999999999999" y="530.0" width="4.9" height="1.4" rx="0.5" fill="#1e0096"/>
<rect x="114.5" y="532.3" width="8.1" height="39.59999999999998" fill="#ff7a00"/>
<rect x="115.1" y="531.9" width="6.9" height="1.5" rx="0.7" fill="#ff7a00"/>
<line x1="118.55" y1="532.5" x2="118.55" y2="530.1" stroke="#ff7a00" stroke-width="1.2" stroke-linecap="butt"/>
<rect x="116.1" y="529.4" width="4.9" height="1.4" rx="0.5" fill="#ff7a00"/>
<rect x="130.0" y="538.0999999999999" width="8.1" height="33.800000000000026" fill="#c8001e"/>
<rect x="130.6" y="537.6999999999999" width="6.9" height="1.5" rx="0.7" fill="#c8001e"/>
<line x1="134.05" y1="538.3" x2="134.05" y2="537.8" stroke="#c8001e" stroke-width="1.2" stroke-linecap="butt"/>
<rect x="131.6" y="537.0999999999999" width="4.9" height="1.4" rx="0.5" fill="#c8001e"/>
<rect x="139.85" y="538.8" width="8.1" height="33.09999999999998" fill="#0638aa"/>
<rect x="140.45" y="538.4" width="6.9" height="1.5" rx="0.7" fill="#0638aa"/>
<line x1="143.9" y1="539.0" x2="143.9" y2="538.5" stroke="#0638aa" stroke-width="1.2" stroke-linecap="butt"/>
<rect x="141.45" y="537.8" width="4.9" height="1.4" rx="0.5" fill="#0638aa"/>
<rect x="149.7" y="533.0" width="8.1" height="38.899999999999935" fill="#3cff0a"/>
<rect x="150.29999999999998" y="532.6" width="6.9" height="1.5" rx="0.7" fill="#3cff0a"/>
<line x1="153.75" y1="533.2" x2="153.75" y2="532.7" stroke="#3cff0a" stroke-width="1.2" stroke-linecap="butt"/>
<rect x="151.29999999999998" y="532.0" width="4.9" height="1.4" rx="0.5" fill="#3cff0a"/>
<rect x="159.55" y="530.9" width="8.1" height="40.99999999999996" fill="#1e0096"/>
<rect x="160.15" y="530.5" width="6.9" height="1.5" rx="0.7" fill="#1e0096"/>
<line x1="163.60000000000002" y1="531.1" x2="163.60000000000002" y2="530.6" stroke="#1e0096" stroke-width="1.2" stroke-linecap="butt"/>
<rect x="161.15" y="529.9" width="4.9" height="1.4" rx="0.5" fill="#1e0096"/>
<rect x="169.4" y="524.6999999999999" width="8.1" height="47.2" fill="#ff7a00"/>
<rect x="170.0" y="524.3" width="6.9" height="1.5" rx="0.7" fill="#ff7a00"/>
<line x1="173.45000000000002" y1="524.9" x2="173.45000000000002" y2="524.4" stroke="#ff7a00" stroke-width="1.2" stroke-linecap="butt"/>
<rect x="171.0" y="523.6999999999999" width="4.9" height="1.4" rx="0.5" fill="#ff7a00"/>
<rect x="185.1" y="537.6999999999999" width="8.1" height="34.2" fill="#c8001e"/>
<rect x="185.7" y="537.3" width="6.9" height="1.5" rx="0.7" fill="#c8001e"/>
<line x1="189.15" y1="537.9" x2="189.15" y2="537.4" stroke="#c8001e" stroke-width="1.2" stroke-linecap="butt"/>
<rect x="186.7" y="536.6999999999999" width="4.9" height="1.4" rx="0.5" fill="#c8001e"/>
<rect x="194.95" y="538.4" width="8.1" height="33.49999999999996" fill="#0638aa"/>
<rect x="195.54999999999998" y="538.0" width="6.9" height="1.5" rx="0.7" fill="#0638aa"/>
<line x1="199.0" y1="538.6" x2="199.0" y2="538.1" stroke="#0638aa" stroke-width="1.2" stroke-linecap="butt"/>
<rect x="196.54999999999998" y="537.4" width="4.9" height="1.4" rx="0.5" fill="#0638aa"/>
<rect x="204.79999999999998" y="515.5" width="8.1" height="56.399999999999935" fill="#3cff0a"/>
<rect x="205.39999999999998" y="515.1" width="6.9" height="1.5" rx="0.7" fill="#3cff0a"/>
<line x1="208.85" y1="515.7" x2="208.85" y2="515.2" stroke="#3cff0a" stroke-width="1.2" stroke-linecap="butt"/>
<rect x="206.39999999999998" y="514.5" width="4.9" height="1.4" rx="0.5" fill="#3cff0a"/>
<rect x="214.64999999999998" y="499.5" width="8.1" height="72.39999999999999" fill="#1e0096"/>
<rect x="215.24999999999997" y="499.09999999999997" width="6.9" height="1.5" rx="0.7" fill="#1e0096"/>
<line x1="218.7" y1="499.7" x2="218.7" y2="499.2" stroke="#1e0096" stroke-width="1.2" stroke-linecap="butt"/>
<rect x="216.24999999999997" y="498.5" width="4.9" height="1.4" rx="0.5" fill="#1e0096"/>
<rect x="224.5" y="500.90000000000003" width="8.1" height="70.99999999999996" fill="#ff7a00"/>
<rect x="225.1" y="500.5" width="6.9" height="1.5" rx="0.7" fill="#ff7a00"/>
<line x1="228.55" y1="501.1" x2="228.55" y2="500.6" stroke="#ff7a00" stroke-width="1.2" stroke-linecap="butt"/>
<rect x="226.1" y="499.90000000000003" width="4.9" height="1.4" rx="0.5" fill="#ff7a00"/>
<rect x="240.5" y="537.6999999999999" width="8.1" height="34.2" fill="#c8001e"/>
<rect x="241.1" y="537.3" width="6.9" height="1.5" rx="0.7" fill="#c8001e"/>
<line x1="244.55" y1="537.9" x2="244.55" y2="537.4" stroke="#c8001e" stroke-width="1.2" stroke-linecap="butt"/>
<rect x="242.1" y="536.6999999999999" width="4.9" height="1.4" rx="0.5" fill="#c8001e"/>
<rect x="250.35" y="523.4" width="8.1" height="48.49999999999996" fill="#0638aa"/>
<rect x="250.95" y="523.0" width="6.9" height="1.5" rx="0.7" fill="#0638aa"/>
<line x1="254.4" y1="523.6" x2="254.4" y2="521.8000000000001" stroke="#0638aa" stroke-width="1.2" stroke-linecap="butt"/>
<rect x="251.95" y="521.1" width="4.9" height="1.4" rx="0.5" fill="#0638aa"/>
<rect x="260.2" y="511.1" width="8.1" height="60.79999999999997" fill="#3cff0a"/>
<rect x="260.8" y="510.7" width="6.9" height="1.5" rx="0.7" fill="#3cff0a"/>
<line x1="264.25" y1="511.3" x2="264.25" y2="510.8" stroke="#3cff0a" stroke-width="1.2" stroke-linecap="butt"/>
<rect x="261.8" y="510.1" width="4.9" height="1.4" rx="0.5" fill="#3cff0a"/>
<rect x="270.05" y="499.5" width="8.1" height="72.39999999999999" fill="#1e0096"/>
<rect x="270.65000000000003" y="499.09999999999997" width="6.9" height="1.5" rx="0.7" fill="#1e0096"/>
<line x1="274.1" y1="499.7" x2="274.1" y2="499.2" stroke="#1e0096" stroke-width="1.2" stroke-linecap="butt"/>
<rect x="271.65000000000003" y="498.5" width="4.9" height="1.4" rx="0.5" fill="#1e0096"/>
<rect x="279.9" y="499.1" width="8.1" height="72.79999999999997" fill="#ff7a00"/>
<rect x="280.5" y="498.7" width="6.9" height="1.5" rx="0.7" fill="#ff7a00"/>
<line x1="283.95" y1="499.3" x2="283.95" y2="498.8" stroke="#ff7a00" stroke-width="1.2" stroke-linecap="butt"/>
<rect x="281.5" y="498.1" width="4.9" height="1.4" rx="0.5" fill="#ff7a00"/>
<line x1="71.4" y1="571.9" x2="290.8" y2="571.9" stroke="#111" stroke-width="1.6" stroke-linecap="butt"/>
<line x1="98.2" y1="571.9" x2="98.2" y2="576.1" stroke="#111" stroke-width="1.6" stroke-linecap="butt"/>
<line x1="153.5" y1="571.9" x2="153.5" y2="576.1" stroke="#111" stroke-width="1.6" stroke-linecap="butt"/>
<line x1="208.8" y1="571.9" x2="208.8" y2="576.1" stroke="#111" stroke-width="1.6" stroke-linecap="butt"/>
<line x1="264.2" y1="571.9" x2="264.2" y2="576.1" stroke="#111" stroke-width="1.6" stroke-linecap="butt"/>
<text x="98.2" y="588.8" font-size="10" text-anchor="middle" font-weight="normal" fill="#111" >Insulin</text>
<text x="153.5" y="588.8" font-size="10" text-anchor="middle" font-weight="normal" fill="#111" >IGF1</text>
<text x="209.0" y="588.8" font-size="10" text-anchor="middle" font-weight="normal" fill="#111" >Insulin +</text>
<text x="208.8" y="602.3" font-size="10" text-anchor="middle" font-weight="normal" fill="#111" >IGFBP7</text>
<text x="264.3" y="588.8" font-size="10" text-anchor="middle" font-weight="normal" fill="#111" >IGF1 +</text>
<text x="264.4" y="602.3" font-size="10" text-anchor="middle" font-weight="normal" fill="#111" >IGFBP7</text>
<rect x="300.7" y="494.7" width="13" height="9.6" fill="#c8001e"/>
<text x="316.6" y="503.5" font-size="10.2" text-anchor="start" font-weight="normal" fill="#111" >0 ng/ml</text>
<rect x="300.7" y="508.2" width="13" height="9.6" fill="#0638aa"/>
<text x="316.6" y="517.0" font-size="10.2" text-anchor="start" font-weight="normal" fill="#111" >5 ng/ml</text>
<rect x="300.7" y="521.5" width="13" height="9.6" fill="#3cff0a"/>
<text x="316.6" y="530.3" font-size="10.2" text-anchor="start" font-weight="normal" fill="#111" >25 ng/ml</text>
<rect x="300.7" y="535.0" width="13" height="9.6" fill="#1e0096"/>
<text x="316.6" y="543.8" font-size="10.2" text-anchor="start" font-weight="normal" fill="#111" >100 ng/ml</text>
<rect x="300.7" y="548.4" width="13" height="9.6" fill="#ff7a00"/>
<text x="316.6" y="557.1999999999999" font-size="10.2" text-anchor="start" font-weight="normal" fill="#111" >500 ng/ml</text>
<text x="7.6" y="629.3" font-size="15" text-anchor="start" font-weight="bold" fill="#000" stroke="#000" stroke-width="0.45">E</text>
<line x1="66.6" y1="636.9000000000001" x2="66.6" y2="744.3" stroke="#111" stroke-width="1.6" stroke-linecap="butt"/>
<line x1="62.39999999999999" y1="743.5" x2="66.6" y2="743.5" stroke="#111" stroke-width="1.6" stroke-linecap="butt"/>
<text transform="translate(58.80,747.25) scale(1.0,1)" font-size="10.5" text-anchor="end" fill="#111">0</text>
<line x1="62.39999999999999" y1="717.05" x2="66.6" y2="717.05" stroke="#111" stroke-width="1.6" stroke-linecap="butt"/>
<text transform="translate(58.80,720.80) scale(1.0,1)" font-size="10.5" text-anchor="end" fill="#111">250</text>
<line x1="62.39999999999999" y1="690.6" x2="66.6" y2="690.6" stroke="#111" stroke-width="1.6" stroke-linecap="butt"/>
<text transform="translate(58.80,694.35) scale(1.0,1)" font-size="10.5" text-anchor="end" fill="#111">500</text>
<line x1="62.39999999999999" y1="664.15" x2="66.6" y2="664.15" stroke="#111" stroke-width="1.6" stroke-linecap="butt"/>
<text transform="translate(58.80,667.90) scale(1.0,1)" font-size="10.5" text-anchor="end" fill="#111">750</text>
<line x1="62.39999999999999" y1="637.7" x2="66.6" y2="637.7" stroke="#111" stroke-width="1.6" stroke-linecap="butt"/>
<text transform="translate(58.80,641.45) scale(1.0,1)" font-size="10.5" text-anchor="end" fill="#111">1000</text>
<line x1="65.8" y1="743.5" x2="118.3" y2="743.5" stroke="#111" stroke-width="1.6" stroke-linecap="butt"/>
<line x1="74.9" y1="743.5" x2="74.9" y2="747.8" stroke="#111" stroke-width="1.6" stroke-linecap="butt"/>
<line x1="91.9" y1="743.5" x2="91.9" y2="747.8" stroke="#111" stroke-width="1.6" stroke-linecap="butt"/>
<line x1="108.9" y1="743.5" x2="108.9" y2="747.8" stroke="#111" stroke-width="1.6" stroke-linecap="butt"/>
<text x="91.6" y="631.0" font-size="12" text-anchor="middle" font-weight="normal" fill="#111" >REH</text>
<text x="74.9" y="758.6" font-size="10.5" text-anchor="middle" font-weight="normal" fill="#111" >0</text>
<text x="90.7" y="758.6" font-size="10.5" text-anchor="middle" font-weight="normal" fill="#111" >24</text>
<text x="108.9" y="758.6" font-size="10.5" text-anchor="middle" font-weight="normal" fill="#111" >48</text>
<polyline points="74.9,711.2 91.9,719.3 108.9,726.8" fill="none" stroke="#0638aa" stroke-width="2.4" stroke-linejoin="round"/>
<line x1="74.9" y1="705.8000000000001" x2="74.9" y2="717.8000000000001" stroke="#0638aa" stroke-width="1.3" stroke-linecap="butt"/>
<line x1="72.9" y1="705.8000000000001" x2="76.9" y2="705.8000000000001" stroke="#0638aa" stroke-width="1.3" stroke-linecap="butt"/>
<line x1="72.9" y1="717.8000000000001" x2="76.9" y2="717.8000000000001" stroke="#0638aa" stroke-width="1.3" stroke-linecap="butt"/>
<circle cx="74.9" cy="711.2" r="1.5" fill="#fff" stroke="#0638aa" stroke-width="1.2"/>
<line x1="91.9" y1="715.8" x2="91.9" y2="722.3" stroke="#0638aa" stroke-width="1.3" stroke-linecap="butt"/>
<line x1="89.9" y1="715.8" x2="93.9" y2="715.8" stroke="#0638aa" stroke-width="1.3" stroke-linecap="butt"/>
<line x1="89.9" y1="722.3" x2="93.9" y2="722.3" stroke="#0638aa" stroke-width="1.3" stroke-linecap="butt"/>
<circle cx="91.9" cy="719.3" r="1.5" fill="#fff" stroke="#0638aa" stroke-width="1.2"/>
<line x1="108.9" y1="720.5" x2="108.9" y2="733.9" stroke="#0638aa" stroke-width="1.3" stroke-linecap="butt"/>
<line x1="106.9" y1="720.5" x2="110.9" y2="720.5" stroke="#0638aa" stroke-width="1.3" stroke-linecap="butt"/>
<line x1="106.9" y1="733.9" x2="110.9" y2="733.9" stroke="#0638aa" stroke-width="1.3" stroke-linecap="butt"/>
<circle cx="108.9" cy="726.8" r="1.5" fill="#fff" stroke="#0638aa" stroke-width="1.2"/>
<polyline points="74.9,711.2 91.9,689.5 108.9,649.4" fill="none" stroke="#c8001e" stroke-width="2.4" stroke-linejoin="round"/>
<line x1="74.9" y1="704.6" x2="74.9" y2="715.4000000000001" stroke="#c8001e" stroke-width="1.3" stroke-linecap="butt"/>
<line x1="72.9" y1="704.6" x2="76.9" y2="704.6" stroke="#c8001e" stroke-width="1.3" stroke-linecap="butt"/>
<line x1="72.9" y1="715.4000000000001" x2="76.9" y2="715.4000000000001" stroke="#c8001e" stroke-width="1.3" stroke-linecap="butt"/>
<circle cx="74.9" cy="711.2" r="1.5" fill="#fff" stroke="#c8001e" stroke-width="1.2"/>
<line x1="91.9" y1="684.4" x2="91.9" y2="695.3" stroke="#c8001e" stroke-width="1.3" stroke-linecap="butt"/>
<line x1="89.9" y1="684.4" x2="93.9" y2="684.4" stroke="#c8001e" stroke-width="1.3" stroke-linecap="butt"/>
<line x1="89.9" y1="695.3" x2="93.9" y2="695.3" stroke="#c8001e" stroke-width="1.3" stroke-linecap="butt"/>
<circle cx="91.9" cy="689.5" r="1.5" fill="#fff" stroke="#c8001e" stroke-width="1.2"/>
<line x1="108.9" y1="645.9" x2="108.9" y2="653.5" stroke="#c8001e" stroke-width="1.3" stroke-linecap="butt"/>
<line x1="106.9" y1="645.9" x2="110.9" y2="645.9" stroke="#c8001e" stroke-width="1.3" stroke-linecap="butt"/>
<line x1="106.9" y1="653.5" x2="110.9" y2="653.5" stroke="#c8001e" stroke-width="1.3" stroke-linecap="butt"/>
<circle cx="108.9" cy="649.4" r="1.5" fill="#fff" stroke="#c8001e" stroke-width="1.2"/>
<text transform="translate(29.8,692.5) rotate(-90)" x="0" y="0" font-size="12.4" text-anchor="middle" fill="#111" stroke="#111" stroke-width="0.42" textLength="97.5" lengthAdjust="spacingAndGlyphs">Proliferation (&#215;10<tspan dy='-4.6' font-size='8.5'>5</tspan><tspan dy='4.6'> cells)</tspan></text>
<line x1="157.0" y1="636.9000000000001" x2="157.0" y2="744.3" stroke="#111" stroke-width="1.6" stroke-linecap="butt"/>
<line x1="152.8" y1="743.5" x2="157.0" y2="743.5" stroke="#111" stroke-width="1.6" stroke-linecap="butt"/>
<text transform="translate(149.20,747.25) scale(1.0,1)" font-size="10.5" text-anchor="end" fill="#111">0</text>
<line x1="152.8" y1="717.05" x2="157.0" y2="717.05" stroke="#111" stroke-width="1.6" stroke-linecap="butt"/>
<text transform="translate(149.20,720.80) scale(1.0,1)" font-size="10.5" text-anchor="end" fill="#111">250</text>
<line x1="152.8" y1="690.6" x2="157.0" y2="690.6" stroke="#111" stroke-width="1.6" stroke-linecap="butt"/>
<text transform="translate(149.20,694.35) scale(1.0,1)" font-size="10.5" text-anchor="end" fill="#111">500</text>
<line x1="152.8" y1="664.15" x2="157.0" y2="664.15" stroke="#111" stroke-width="1.6" stroke-linecap="butt"/>
<text transform="translate(149.20,667.90) scale(1.0,1)" font-size="10.5" text-anchor="end" fill="#111">750</text>
<line x1="152.8" y1="637.7" x2="157.0" y2="637.7" stroke="#111" stroke-width="1.6" stroke-linecap="butt"/>
<text transform="translate(149.20,641.45) scale(1.0,1)" font-size="10.5" text-anchor="end" fill="#111">1000</text>
<line x1="156.2" y1="743.5" x2="209.5" y2="743.5" stroke="#111" stroke-width="1.6" stroke-linecap="butt"/>
<line x1="165.4" y1="743.5" x2="165.4" y2="747.8" stroke="#111" stroke-width="1.6" stroke-linecap="butt"/>
<line x1="182.6" y1="743.5" x2="182.6" y2="747.8" stroke="#111" stroke-width="1.6" stroke-linecap="butt"/>
<line x1="199.6" y1="743.5" x2="199.6" y2="747.8" stroke="#111" stroke-width="1.6" stroke-linecap="butt"/>
<text x="188.6" y="631.0" font-size="12" text-anchor="middle" font-weight="normal" fill="#111" >Jurkat</text>
<text x="165.4" y="758.6" font-size="10.5" text-anchor="middle" font-weight="normal" fill="#111" >0</text>
<text x="181.6" y="758.6" font-size="10.5" text-anchor="middle" font-weight="normal" fill="#111" >24</text>
<text x="198.6" y="758.6" font-size="10.5" text-anchor="middle" font-weight="normal" fill="#111" >48</text>
<text x="206.1" y="758.6" font-size="10.5" text-anchor="start" font-weight="normal" fill="#111" >hours</text>
<polyline points="165.4,717.8 182.6,717.5 199.6,712.3" fill="none" stroke="#0638aa" stroke-width="2.4" stroke-linejoin="round"/>
<line x1="165.4" y1="716.8" x2="165.4" y2="718.8" stroke="#0638aa" stroke-width="1.3" stroke-linecap="butt"/>
<line x1="163.4" y1="716.8" x2="167.4" y2="716.8" stroke="#0638aa" stroke-width="1.3" stroke-linecap="butt"/>
<line x1="163.4" y1="718.8" x2="167.4" y2="718.8" stroke="#0638aa" stroke-width="1.3" stroke-linecap="butt"/>
<circle cx="165.4" cy="717.8" r="1.5" fill="#fff" stroke="#0638aa" stroke-width="1.2"/>
<circle cx="182.6" cy="717.5" r="1.5" fill="#fff" stroke="#0638aa" stroke-width="1.2"/>
<line x1="199.6" y1="708.1999999999999" x2="199.6" y2="716.8" stroke="#0638aa" stroke-width="1.3" stroke-linecap="butt"/>
<line x1="197.6" y1="708.1999999999999" x2="201.6" y2="708.1999999999999" stroke="#0638aa" stroke-width="1.3" stroke-linecap="butt"/>
<line x1="197.6" y1="716.8" x2="201.6" y2="716.8" stroke="#0638aa" stroke-width="1.3" stroke-linecap="butt"/>
<circle cx="199.6" cy="712.3" r="1.5" fill="#fff" stroke="#0638aa" stroke-width="1.2"/>
<polyline points="165.4,716.6 182.6,706.3 199.6,684.0" fill="none" stroke="#c8001e" stroke-width="2.4" stroke-linejoin="round"/>
<line x1="165.4" y1="715.1" x2="165.4" y2="718.1" stroke="#c8001e" stroke-width="1.3" stroke-linecap="butt"/>
<line x1="163.4" y1="715.1" x2="167.4" y2="715.1" stroke="#c8001e" stroke-width="1.3" stroke-linecap="butt"/>
<line x1="163.4" y1="718.1" x2="167.4" y2="718.1" stroke="#c8001e" stroke-width="1.3" stroke-linecap="butt"/>
<circle cx="165.4" cy="716.6" r="1.5" fill="#fff" stroke="#c8001e" stroke-width="1.2"/>
<line x1="182.6" y1="703.0999999999999" x2="182.6" y2="709.3" stroke="#c8001e" stroke-width="1.3" stroke-linecap="butt"/>
<line x1="180.6" y1="703.0999999999999" x2="184.6" y2="703.0999999999999" stroke="#c8001e" stroke-width="1.3" stroke-linecap="butt"/>
<line x1="180.6" y1="709.3" x2="184.6" y2="709.3" stroke="#c8001e" stroke-width="1.3" stroke-linecap="butt"/>
<circle cx="182.6" cy="706.3" r="1.5" fill="#fff" stroke="#c8001e" stroke-width="1.2"/>
<line x1="199.6" y1="680.4" x2="199.6" y2="687.9" stroke="#c8001e" stroke-width="1.3" stroke-linecap="butt"/>
<line x1="197.6" y1="680.4" x2="201.6" y2="680.4" stroke="#c8001e" stroke-width="1.3" stroke-linecap="butt"/>
<line x1="197.6" y1="687.9" x2="201.6" y2="687.9" stroke="#c8001e" stroke-width="1.3" stroke-linecap="butt"/>
<circle cx="199.6" cy="684.0" r="1.5" fill="#fff" stroke="#c8001e" stroke-width="1.2"/>
<rect x="189.2" y="643.1" width="12.6" height="9.4" fill="#c8001e"/>
<text x="206.7" y="651.9000000000001" font-size="10" text-anchor="start" font-weight="normal" fill="#111" >Scr</text>
<rect x="189.2" y="656.9" width="12.6" height="9.4" fill="#0638aa"/>
<text x="206.7" y="665.7" font-size="10" text-anchor="start" font-weight="normal" fill="#111" >sh.IGF1R</text>
<text x="248.7" y="629.2" font-size="15" text-anchor="start" font-weight="bold" fill="#000" stroke="#000" stroke-width="0.45">F</text>
<line x1="303.8" y1="634.2" x2="303.8" y2="741.5999999999999" stroke="#111" stroke-width="1.6" stroke-linecap="butt"/>
<line x1="299.6" y1="740.8" x2="303.8" y2="740.8" stroke="#111" stroke-width="1.6" stroke-linecap="butt"/>
<text transform="translate(296.00,744.55) scale(1.0,1)" font-size="10.5" text-anchor="end" fill="#111">0</text>
<line x1="299.6" y1="719.64" x2="303.8" y2="719.64" stroke="#111" stroke-width="1.6" stroke-linecap="butt"/>
<text transform="translate(296.00,723.39) scale(1.0,1)" font-size="10.5" text-anchor="end" fill="#111">20</text>
<line x1="299.6" y1="698.48" x2="303.8" y2="698.48" stroke="#111" stroke-width="1.6" stroke-linecap="butt"/>
<text transform="translate(296.00,702.23) scale(1.0,1)" font-size="10.5" text-anchor="end" fill="#111">40</text>
<line x1="299.6" y1="677.3199999999999" x2="303.8" y2="677.3199999999999" stroke="#111" stroke-width="1.6" stroke-linecap="butt"/>
<text transform="translate(296.00,681.07) scale(1.0,1)" font-size="10.5" text-anchor="end" fill="#111">60</text>
<line x1="299.6" y1="656.16" x2="303.8" y2="656.16" stroke="#111" stroke-width="1.6" stroke-linecap="butt"/>
<text transform="translate(296.00,659.91) scale(1.0,1)" font-size="10.5" text-anchor="end" fill="#111">80</text>
<line x1="299.6" y1="635.0" x2="303.8" y2="635.0" stroke="#111" stroke-width="1.6" stroke-linecap="butt"/>
<text transform="translate(296.00,638.75) scale(1.0,1)" font-size="10.5" text-anchor="end" fill="#111">100</text>
<rect x="306.2" y="662.0" width="6.6" height="78.79999999999991" fill="#c8001e"/>
<rect x="306.4" y="660.6" width="6.199999999999999" height="2.6" rx="1.5" fill="#c8001e"/>
<rect x="315.0" y="663.8" width="6.6" height="76.99999999999996" fill="#0638aa"/>
<rect x="315.2" y="662.4" width="6.199999999999999" height="2.6" rx="1.5" fill="#0638aa"/>
<rect x="328.4" y="663.8" width="6.6" height="76.99999999999996" fill="#c8001e"/>
<rect x="328.59999999999997" y="662.4" width="6.199999999999999" height="2.6" rx="1.5" fill="#c8001e"/>
<rect x="337.1" y="686.3" width="6.6" height="54.49999999999996" fill="#0638aa"/>
<rect x="337.3" y="684.9" width="6.199999999999999" height="2.6" rx="1.5" fill="#0638aa"/>
<rect x="350.8" y="663.3" width="6.6" height="77.49999999999996" fill="#c8001e"/>
<rect x="351.0" y="661.9" width="6.199999999999999" height="2.6" rx="1.5" fill="#c8001e"/>
<rect x="359.6" y="730.0999999999999" width="6.6" height="10.7" fill="#0638aa"/>
<rect x="359.8" y="728.6999999999999" width="6.199999999999999" height="2.6" rx="1.5" fill="#0638aa"/>
<line x1="303.0" y1="740.8" x2="369.5" y2="740.8" stroke="#111" stroke-width="1.6" stroke-linecap="butt"/>
<line x1="313.9" y1="740.8" x2="313.9" y2="745.0999999999999" stroke="#111" stroke-width="1.6" stroke-linecap="butt"/>
<line x1="336.4" y1="740.8" x2="336.4" y2="745.0999999999999" stroke="#111" stroke-width="1.6" stroke-linecap="butt"/>
<line x1="358.9" y1="740.8" x2="358.9" y2="745.0999999999999" stroke="#111" stroke-width="1.6" stroke-linecap="butt"/>
<text x="337.5" y="631.5" font-size="12" text-anchor="middle" font-weight="normal" fill="#111" >REH</text>
<text x="313.9" y="758.8" font-size="10.5" text-anchor="middle" font-weight="normal" fill="#111" >0</text>
<text x="336.4" y="758.8" font-size="10.5" text-anchor="middle" font-weight="normal" fill="#111" >24</text>
<text x="358.9" y="758.8" font-size="10.5" text-anchor="middle" font-weight="normal" fill="#111" >48</text>
<circle cx="337.20" cy="680.20" r="1.05" fill="#222"/>
<circle cx="339.95" cy="680.20" r="1.05" fill="#222"/>
<circle cx="342.65" cy="680.20" r="1.05" fill="#222"/>
<circle cx="345.40" cy="680.20" r="1.05" fill="#222"/>
<circle cx="358.90" cy="724.00" r="1.05" fill="#222"/>
<circle cx="361.65" cy="724.00" r="1.05" fill="#222"/>
<circle cx="364.35" cy="724.00" r="1.05" fill="#222"/>
<circle cx="367.10" cy="724.00" r="1.05" fill="#222"/>
<text transform="translate(271.7,686) rotate(-90)" x="0" y="0" font-size="12.4" text-anchor="middle" fill="#111" stroke="#111" stroke-width="0.42" textLength="119" lengthAdjust="spacingAndGlyphs">Annexin-V/7AAD (&#8722;) cells (%)</text>
<line x1="395.4" y1="631.0" x2="395.4" y2="741.4" stroke="#111" stroke-width="1.6" stroke-linecap="butt"/>
<line x1="391.2" y1="740.6" x2="395.4" y2="740.6" stroke="#111" stroke-width="1.6" stroke-linecap="butt"/>
<text transform="translate(387.60,744.35) scale(1.0,1)" font-size="10.5" text-anchor="end" fill="#111">0</text>
<line x1="391.2" y1="718.84" x2="395.4" y2="718.84" stroke="#111" stroke-width="1.6" stroke-linecap="butt"/>
<text transform="translate(387.60,722.59) scale(1.0,1)" font-size="10.5" text-anchor="end" fill="#111">20</text>
<line x1="391.2" y1="697.08" x2="395.4" y2="697.08" stroke="#111" stroke-width="1.6" stroke-linecap="butt"/>
<text transform="translate(387.60,700.83) scale(1.0,1)" font-size="10.5" text-anchor="end" fill="#111">40</text>
<line x1="391.2" y1="675.3199999999999" x2="395.4" y2="675.3199999999999" stroke="#111" stroke-width="1.6" stroke-linecap="butt"/>
<text transform="translate(387.60,679.07) scale(1.0,1)" font-size="10.5" text-anchor="end" fill="#111">60</text>
<line x1="391.2" y1="653.56" x2="395.4" y2="653.56" stroke="#111" stroke-width="1.6" stroke-linecap="butt"/>
<text transform="translate(387.60,657.31) scale(1.0,1)" font-size="10.5" text-anchor="end" fill="#111">80</text>
<line x1="391.2" y1="631.8" x2="395.4" y2="631.8" stroke="#111" stroke-width="1.6" stroke-linecap="butt"/>
<text transform="translate(387.60,635.55) scale(1.0,1)" font-size="10.5" text-anchor="end" fill="#111">100</text>
<rect x="397.5" y="662.0" width="6.6" height="78.59999999999998" fill="#c8001e"/>
<rect x="397.7" y="660.6" width="6.199999999999999" height="2.6" rx="1.5" fill="#c8001e"/>
<rect x="406.1" y="662.9" width="6.6" height="77.7" fill="#0638aa"/>
<rect x="406.3" y="661.5" width="6.199999999999999" height="2.6" rx="1.5" fill="#0638aa"/>
<rect x="420.0" y="660.5999999999999" width="6.6" height="80.00000000000007" fill="#c8001e"/>
<rect x="420.2" y="659.1999999999999" width="6.199999999999999" height="2.6" rx="1.5" fill="#c8001e"/>
<rect x="429.2" y="685.0999999999999" width="6.6" height="55.50000000000007" fill="#0638aa"/>
<rect x="429.4" y="683.6999999999999" width="6.199999999999999" height="2.6" rx="1.5" fill="#0638aa"/>
<rect x="443.7" y="662.5999999999999" width="6.6" height="78.00000000000007" fill="#c8001e"/>
<rect x="443.9" y="661.1999999999999" width="6.199999999999999" height="2.6" rx="1.5" fill="#c8001e"/>
<rect x="452.3" y="708.1999999999999" width="6.6" height="32.40000000000005" fill="#0638aa"/>
<rect x="452.5" y="706.8" width="6.199999999999999" height="2.6" rx="1.5" fill="#0638aa"/>
<line x1="394.59999999999997" y1="740.6" x2="460.9" y2="740.6" stroke="#111" stroke-width="1.6" stroke-linecap="butt"/>
<line x1="404.6" y1="740.6" x2="404.6" y2="744.9" stroke="#111" stroke-width="1.6" stroke-linecap="butt"/>
<line x1="427.1" y1="740.6" x2="427.1" y2="744.9" stroke="#111" stroke-width="1.6" stroke-linecap="butt"/>
<line x1="449.3" y1="740.6" x2="449.3" y2="744.9" stroke="#111" stroke-width="1.6" stroke-linecap="butt"/>
<text x="432.6" y="631.5" font-size="12" text-anchor="middle" font-weight="normal" fill="#111" >Jurkat</text>
<text x="404.6" y="758.8" font-size="10.5" text-anchor="middle" font-weight="normal" fill="#111" >0</text>
<text x="427.1" y="758.8" font-size="10.5" text-anchor="middle" font-weight="normal" fill="#111" >24</text>
<text x="449.3" y="758.8" font-size="10.5" text-anchor="middle" font-weight="normal" fill="#111" >48</text>
<text x="457.8" y="758.8" font-size="10.5" text-anchor="start" font-weight="normal" fill="#111" >hours</text>
<circle cx="427.90" cy="679.30" r="1.05" fill="#222"/>
<circle cx="430.65" cy="679.30" r="1.05" fill="#222"/>
<circle cx="433.35" cy="679.30" r="1.05" fill="#222"/>
<circle cx="436.10" cy="679.30" r="1.05" fill="#222"/>
<circle cx="451.60" cy="702.70" r="1.05" fill="#222"/>
<circle cx="454.35" cy="702.70" r="1.05" fill="#222"/>
<circle cx="457.05" cy="702.70" r="1.05" fill="#222"/>
<circle cx="459.80" cy="702.70" r="1.05" fill="#222"/>
<rect x="456.5" y="644.3" width="12.4" height="9.3" fill="#c8001e"/>
<text x="471.5" y="653.05" font-size="10" text-anchor="start" font-weight="normal" fill="#111" >Scr</text>
<rect x="456.5" y="658.2" width="12.4" height="9.3" fill="#0638aa"/>
<text x="471.5" y="666.95" font-size="10" text-anchor="start" font-weight="normal" fill="#111" >sh.IGF1R</text>
<rect x="1" y="1" width="518" height="773" fill="none" stroke="#000" stroke-width="2"/>
</svg></body></html>
